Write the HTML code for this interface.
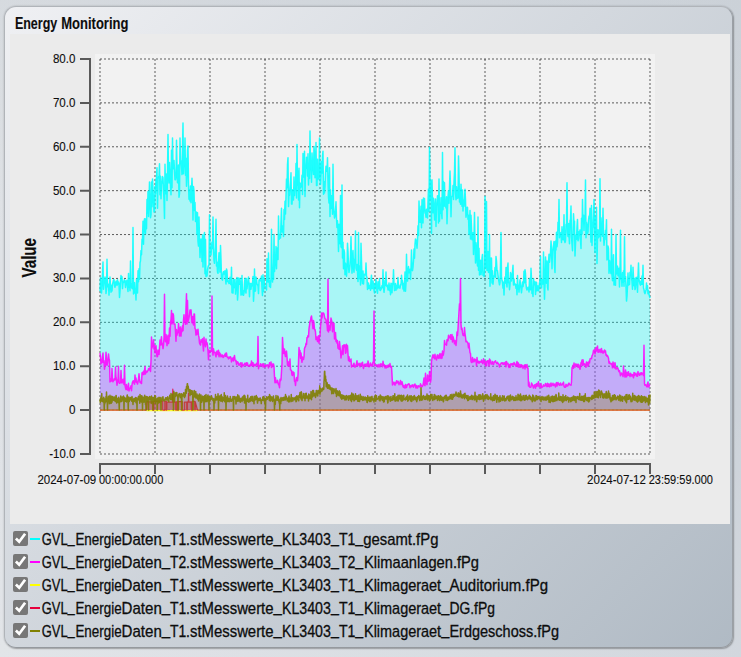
<!DOCTYPE html>
<html><head><meta charset="utf-8"><title>Energy Monitoring</title>
<style>
html,body{margin:0;padding:0;}
body{width:741px;height:657px;overflow:hidden;background:#d3d8dd;font-family:"Liberation Sans",sans-serif;position:relative;}
#bg{position:absolute;left:0;top:0;width:741px;height:657px;background:linear-gradient(180deg,rgba(200,206,212,0.39) 0%,rgba(200,206,212,0) 35%,rgba(255,255,255,0) 60%,rgba(255,255,255,0.1) 100%),linear-gradient(90deg,#dfe2e6 0%,#cdd3da 100%);}
#panel{position:absolute;left:4px;top:6px;width:727px;height:640px;border-radius:12px;border:1px solid #b0b4b9;border-right-color:#9ba0a6;border-bottom-color:#95999e;box-sizing:content-box;
 background:linear-gradient(135deg,#eff0f3 0%,#b0bac4 100%);box-shadow:0 0 2px rgba(0,0,0,0.22),1px 1px 1.5px rgba(0,0,0,0.25);}
#inner{position:absolute;left:10px;top:34px;width:720px;height:490px;background:#ebebeb;}
svg{position:absolute;left:0;top:0;}
text{font-family:"Liberation Sans",sans-serif;fill:#0d0d0d;stroke:#0d0d0d;stroke-width:0.3px;}
text[font-weight]{stroke-width:0.12px;}
text[font-size="12"]{stroke-width:0.1px;}
</style></head><body>
<div id="bg"></div>
<div id="panel"></div>
<div id="inner"></div>
<svg width="741" height="657" viewBox="0 0 741 657">
<rect x="95" y="54" width="560" height="405" fill="#f2f2f2"/>
<path d="M100,59V454M155,59V454M210,59V454M265,59V454M320,59V454M375,59V454M430,59V454M485,59V454M540,59V454M595,59V454M650,59V454M100,59.00H650M100,102.89H650M100,146.78H650M100,190.67H650M100,234.56H650M100,278.44H650M100,322.33H650M100,366.22H650M100,410.11H650M100,454.00H650" fill="none" stroke="#222" stroke-opacity="0.72" stroke-width="1" stroke-dasharray="2 2"/>
<path d="M100.00,410.1L100.00,291.3L100.50,277.8L101.00,288.0L101.50,292.9L102.00,284.4L102.50,273.1L103.00,261.9L103.50,289.3L104.00,284.1L104.50,280.8L105.00,277.1L105.50,280.4L106.00,293.4L106.50,289.3L107.00,259.3L107.50,286.7L108.00,284.2L108.50,284.6L109.00,295.1L109.50,284.3L110.00,277.1L110.50,286.5L111.00,292.3L111.50,285.5L112.00,291.0L112.50,284.1L113.00,282.1L113.50,279.9L114.00,279.6L114.50,285.4L115.00,287.2L115.50,284.3L116.00,281.2L116.50,281.3L117.00,285.4L117.50,279.7L118.00,284.0L118.50,282.0L119.00,283.6L119.50,297.4L120.00,291.3L120.50,281.9L121.00,275.5L121.50,279.4L122.00,276.7L122.50,288.6L123.00,282.2L123.50,282.6L124.00,280.6L124.50,279.6L125.00,281.9L125.50,287.5L126.00,281.1L126.50,284.7L127.00,280.3L127.50,287.2L128.00,291.4L128.50,273.4L129.00,287.2L129.50,283.2L130.00,290.7L130.50,260.9L131.00,287.0L131.50,283.4L132.00,288.3L132.50,288.6L133.00,227.5L133.50,294.0L134.00,283.4L134.50,282.6L135.00,293.1L135.50,289.1L136.00,299.9L136.50,279.0L137.00,285.9L137.50,293.0L138.00,270.7L138.50,281.8L139.00,268.7L139.50,279.2L140.00,262.7L140.50,260.7L141.00,250.5L141.50,254.8L142.00,239.4L142.50,238.5L143.00,221.3L143.50,244.3L144.00,222.9L144.50,218.8L145.00,229.4L145.50,233.5L146.00,218.4L146.50,228.7L147.00,199.5L147.50,212.9L148.00,191.5L148.50,216.4L149.00,200.2L149.50,181.9L150.00,201.1L150.50,217.7L151.00,214.6L151.50,182.0L152.00,206.7L152.50,179.0L153.00,190.0L153.50,200.6L154.00,212.0L154.50,211.1L155.00,186.5L155.50,193.9L156.00,179.7L156.50,177.7L157.00,167.8L157.50,208.3L158.00,178.8L158.50,177.5L159.00,175.8L159.50,163.7L160.00,194.7L160.50,176.3L161.00,198.7L161.50,183.5L162.00,183.1L162.50,176.6L163.00,177.5L163.50,189.8L164.00,199.8L164.50,218.5L165.00,164.3L165.50,187.8L166.00,193.7L166.50,174.1L167.00,200.5L167.50,172.5L168.00,134.5L168.50,174.3L169.00,182.9L169.50,162.5L170.00,175.6L170.50,183.7L171.00,194.7L171.50,150.2L172.00,187.8L172.50,138.0L173.00,166.4L173.50,168.7L174.00,160.4L174.50,171.1L175.00,179.7L175.50,179.7L176.00,177.0L176.50,140.2L177.00,168.0L177.50,182.7L178.00,181.0L178.50,164.9L179.00,197.2L179.50,193.6L180.00,138.0L180.50,161.6L181.00,160.8L181.50,166.7L182.00,174.6L182.50,147.2L183.00,123.1L183.50,173.8L184.00,163.5L184.50,165.9L185.00,138.0L185.50,175.3L186.00,158.3L186.50,186.2L187.00,175.1L187.50,150.6L188.00,145.9L188.50,182.9L189.00,199.3L189.50,190.0L190.00,200.9L190.50,186.1L191.00,202.8L191.50,189.3L192.00,178.3L192.50,192.1L193.00,220.1L193.50,186.5L194.00,191.3L194.50,210.4L195.00,202.6L195.50,221.5L196.00,212.5L196.50,212.0L197.00,233.9L197.50,212.8L198.00,241.3L198.50,246.1L199.00,217.1L199.50,240.1L200.00,257.6L200.50,245.4L201.00,239.1L201.50,239.3L202.00,261.6L202.50,234.7L203.00,266.9L203.50,241.6L204.00,235.9L204.50,232.4L205.00,273.8L205.50,239.5L206.00,276.6L206.50,271.4L207.00,275.9L207.50,270.2L208.00,267.0L208.50,265.5L209.00,265.2L209.50,214.8L210.00,244.2L210.50,254.8L211.00,255.0L211.50,247.3L212.00,242.1L212.50,248.4L213.00,217.0L213.50,247.6L214.00,260.4L214.50,263.3L215.00,255.7L215.50,245.8L216.00,219.2L216.50,266.0L217.00,262.1L217.50,271.9L218.00,273.2L218.50,261.6L219.00,252.7L219.50,260.9L220.00,272.1L220.50,245.5L221.00,259.1L221.50,278.0L222.00,279.2L222.50,280.1L223.00,273.2L223.50,271.6L224.00,274.1L224.50,274.1L225.00,270.7L225.50,279.5L226.00,283.9L226.50,268.9L227.00,271.0L227.50,281.6L228.00,280.0L228.50,282.2L229.00,283.5L229.50,283.1L230.00,277.2L230.50,283.6L231.00,284.6L231.50,267.2L232.00,292.7L232.50,284.7L233.00,293.1L233.50,279.3L234.00,286.7L234.50,287.6L235.00,279.5L235.50,294.1L236.00,287.5L236.50,285.2L237.00,277.5L237.50,300.1L238.00,293.5L238.50,278.1L239.00,284.0L239.50,284.2L240.00,278.3L240.50,285.2L241.00,295.1L241.50,289.4L242.00,275.6L242.50,294.7L243.00,290.5L243.50,295.3L244.00,292.9L244.50,283.0L245.00,278.3L245.50,291.1L246.00,293.0L246.50,278.5L247.00,288.7L247.50,283.8L248.00,283.6L248.50,277.0L249.00,284.2L249.50,296.8L250.00,283.2L250.50,284.5L251.00,289.3L251.50,283.6L252.00,285.9L252.50,283.9L253.00,276.6L253.50,301.2L254.00,291.3L254.50,268.9L255.00,291.3L255.50,290.7L256.00,277.1L256.50,278.8L257.00,283.8L257.50,284.6L258.00,286.0L258.50,293.6L259.00,280.3L259.50,279.4L260.00,279.8L260.50,280.9L261.00,279.3L261.50,276.1L262.00,288.4L262.50,295.6L263.00,274.7L263.50,291.6L264.00,277.7L264.50,285.3L265.00,286.4L265.50,286.4L266.00,286.7L266.50,290.0L267.00,258.7L267.50,275.9L268.00,281.9L268.50,253.1L269.00,277.8L269.50,286.6L270.00,281.2L270.50,287.4L271.00,277.8L271.50,229.3L272.00,262.6L272.50,282.1L273.00,268.0L273.50,279.5L274.00,234.6L274.50,271.6L275.00,263.4L275.50,264.7L276.00,246.6L276.50,268.8L277.00,249.8L277.50,247.7L278.00,259.4L278.50,216.0L279.00,239.3L279.50,238.3L280.00,234.6L280.50,237.9L281.00,221.4L281.50,208.3L282.00,232.1L282.50,225.8L283.00,228.5L283.50,236.5L284.00,209.5L284.50,219.5L285.00,201.3L285.50,214.0L286.00,196.1L286.50,179.0L287.00,187.7L287.50,164.3L288.00,157.7L288.50,206.6L289.00,193.6L289.50,195.2L290.00,187.1L290.50,181.3L291.00,172.8L291.50,204.0L292.00,204.1L292.50,189.7L293.00,196.4L293.50,199.9L294.00,176.9L294.50,195.6L295.00,186.9L295.50,188.0L296.00,163.5L296.50,197.9L297.00,144.6L297.50,185.0L298.00,170.7L298.50,199.9L299.00,168.3L299.50,207.8L300.00,183.0L300.50,187.8L301.00,186.3L301.50,184.0L302.00,175.2L302.50,194.4L303.00,153.4L303.50,177.0L304.00,176.3L304.50,151.2L305.00,196.6L305.50,169.0L306.00,168.0L306.50,157.3L307.00,163.1L307.50,176.1L308.00,153.7L308.50,185.0L309.00,170.1L309.50,178.5L310.00,131.0L310.50,169.7L311.00,165.2L311.50,182.2L312.00,152.9L312.50,163.9L313.00,167.8L313.50,174.5L314.00,146.6L314.50,154.0L315.00,177.7L315.50,169.3L316.00,142.4L316.50,185.4L317.00,185.4L317.50,159.2L318.00,179.6L318.50,177.4L319.00,176.9L319.50,138.0L320.00,178.4L320.50,184.2L321.00,173.6L321.50,161.5L322.00,173.1L322.50,156.1L323.00,151.2L323.50,194.2L324.00,181.6L324.50,192.9L325.00,186.8L325.50,173.6L326.00,166.2L326.50,171.2L327.00,171.3L327.50,157.8L328.00,180.5L328.50,196.6L329.00,202.9L329.50,167.8L330.00,216.5L330.50,190.1L331.00,208.4L331.50,205.0L332.00,195.4L332.50,214.3L333.00,164.3L333.50,205.3L334.00,211.9L334.50,218.0L335.00,216.0L335.50,211.2L336.00,201.8L336.50,218.3L337.00,227.4L337.50,220.8L338.00,229.1L338.50,251.6L339.00,224.2L339.50,229.4L340.00,243.8L340.50,195.5L341.00,246.7L341.50,247.7L342.00,185.0L342.50,257.9L343.00,242.3L343.50,268.7L344.00,249.8L344.50,252.9L345.00,274.8L345.50,263.2L346.00,269.3L346.50,276.2L347.00,268.3L347.50,243.3L348.00,251.5L348.50,266.2L349.00,272.5L349.50,269.5L350.00,265.2L350.50,255.7L351.00,236.8L351.50,258.6L352.00,273.1L352.50,260.7L353.00,250.6L353.50,267.1L354.00,272.3L354.50,261.1L355.00,258.0L355.50,231.0L356.00,268.1L356.50,270.2L357.00,264.6L357.50,271.7L358.00,281.4L358.50,232.4L359.00,269.5L359.50,278.8L360.00,265.9L360.50,284.9L361.00,243.3L361.50,261.0L362.00,279.3L362.50,283.6L363.00,271.0L363.50,283.9L364.00,274.9L364.50,274.3L365.00,274.8L365.50,274.9L366.00,263.1L366.50,276.3L367.00,277.4L367.50,289.4L368.00,287.3L368.50,283.1L369.00,288.4L369.50,286.6L370.00,285.3L370.50,290.3L371.00,278.9L371.50,275.2L372.00,288.7L372.50,288.3L373.00,281.0L373.50,285.1L374.00,290.0L374.50,292.9L375.00,283.5L375.50,287.0L376.00,279.6L376.50,284.8L377.00,291.1L377.50,293.2L378.00,281.7L378.50,282.5L379.00,288.8L379.50,278.5L380.00,290.3L380.50,290.5L381.00,287.4L381.50,288.9L382.00,285.4L382.50,287.6L383.00,269.7L383.50,286.3L384.00,292.3L384.50,287.9L385.00,280.3L385.50,285.6L386.00,271.9L386.50,285.2L387.00,286.6L387.50,285.2L388.00,289.9L388.50,288.0L389.00,283.1L389.50,290.6L390.00,285.4L390.50,294.7L391.00,283.2L391.50,290.8L392.00,292.7L392.50,283.3L393.00,284.0L393.50,269.7L394.00,283.2L394.50,290.6L395.00,288.0L395.50,283.5L396.00,290.2L396.50,285.5L397.00,288.8L397.50,286.1L398.00,277.4L398.50,287.8L399.00,285.9L399.50,287.7L400.00,288.1L400.50,284.3L401.00,285.0L401.50,275.3L402.00,281.7L402.50,280.7L403.00,289.0L403.50,283.6L404.00,291.1L404.50,287.2L405.00,271.9L405.50,291.3L406.00,282.8L406.50,254.3L407.00,274.2L407.50,281.1L408.00,272.4L408.50,266.6L409.00,272.8L409.50,270.1L410.00,269.2L410.50,279.4L411.00,267.7L411.50,249.9L412.00,269.5L412.50,270.6L413.00,267.0L413.50,260.8L414.00,249.1L414.50,258.3L415.00,244.1L415.50,238.9L416.00,240.0L416.50,243.0L417.00,248.3L417.50,240.5L418.00,225.7L418.50,235.4L419.00,201.1L419.50,215.6L420.00,222.3L420.50,218.6L421.00,206.2L421.50,227.8L422.00,199.7L422.50,212.2L423.00,223.0L423.50,198.1L424.00,210.7L424.50,198.6L425.00,213.0L425.50,212.1L426.00,217.3L426.50,209.3L427.00,214.4L427.50,218.0L428.00,201.2L428.50,189.1L429.00,211.5L429.50,147.2L430.00,179.9L430.50,200.0L431.00,181.1L431.50,233.4L432.00,179.7L432.50,201.4L433.00,212.8L433.50,198.2L434.00,205.8L434.50,220.0L435.00,211.6L435.50,198.9L436.00,226.5L436.50,205.5L437.00,204.5L437.50,195.7L438.00,201.4L438.50,223.1L439.00,179.0L439.50,221.2L440.00,209.2L440.50,213.3L441.00,197.7L441.50,212.4L442.00,218.8L442.50,152.5L443.00,209.8L443.50,181.5L444.00,205.9L444.50,182.7L445.00,206.2L445.50,205.0L446.00,207.9L446.50,196.8L447.00,223.7L447.50,207.9L448.00,196.7L448.50,190.8L449.00,203.3L449.50,186.9L450.00,170.9L450.50,186.6L451.00,216.8L451.50,196.8L452.00,196.5L452.50,196.6L453.00,185.5L453.50,199.5L454.00,181.5L454.50,172.0L455.00,147.7L455.50,192.2L456.00,199.7L456.50,186.8L457.00,198.4L457.50,198.1L458.00,198.0L458.50,156.1L459.00,173.1L459.50,202.1L460.00,189.5L460.50,204.2L461.00,184.3L461.50,196.2L462.00,206.2L462.50,189.9L463.00,210.9L463.50,200.5L464.00,206.2L464.50,197.7L465.00,189.2L465.50,200.3L466.00,217.2L466.50,213.2L467.00,207.5L467.50,207.3L468.00,219.3L468.50,215.3L469.00,234.2L469.50,223.8L470.00,210.6L470.50,238.9L471.00,215.3L471.50,228.0L472.00,239.8L472.50,233.2L473.00,232.7L473.50,254.5L474.00,237.0L474.50,212.6L475.00,241.6L475.50,263.0L476.00,242.7L476.50,249.6L477.00,260.0L477.50,265.9L478.00,217.0L478.50,270.2L479.00,248.2L479.50,274.9L480.00,270.7L480.50,260.3L481.00,274.6L481.50,269.9L482.00,258.2L482.50,254.4L483.00,275.2L483.50,272.2L484.00,276.4L484.50,271.0L485.00,196.4L485.50,264.0L486.00,267.7L486.50,201.6L487.00,270.5L487.50,268.0L488.00,251.6L488.50,272.4L489.00,266.2L489.50,234.6L490.00,286.3L490.50,272.0L491.00,258.0L491.50,258.2L492.00,283.0L492.50,270.8L493.00,284.3L493.50,278.2L494.00,275.8L494.50,276.4L495.00,267.5L495.50,277.2L496.00,256.5L496.50,261.4L497.00,270.5L497.50,270.6L498.00,275.0L498.50,279.1L499.00,281.8L499.50,284.8L500.00,282.6L500.50,264.7L501.00,232.4L501.50,277.2L502.00,280.0L502.50,282.2L503.00,288.1L503.50,282.3L504.00,295.0L504.50,281.9L505.00,277.1L505.50,283.1L506.00,267.4L506.50,281.8L507.00,286.9L507.50,267.2L508.00,263.1L508.50,282.7L509.00,282.0L509.50,289.7L510.00,285.0L510.50,272.6L511.00,275.6L511.50,280.9L512.00,275.2L512.50,271.8L513.00,265.3L513.50,284.9L514.00,279.0L514.50,284.7L515.00,284.4L515.50,284.1L516.00,288.3L516.50,284.7L517.00,294.7L517.50,275.6L518.00,289.1L518.50,285.5L519.00,292.1L519.50,285.4L520.00,279.8L520.50,284.5L521.00,288.0L521.50,292.8L522.00,287.7L522.50,282.0L523.00,286.6L523.50,283.0L524.00,271.2L524.50,282.8L525.00,269.7L525.50,273.7L526.00,283.9L526.50,288.6L527.00,290.1L527.50,288.7L528.00,287.2L528.50,287.6L529.00,292.0L529.50,278.4L530.00,286.3L530.50,289.8L531.00,268.2L531.50,279.1L532.00,293.4L532.50,289.7L533.00,296.5L533.50,278.7L534.00,282.7L534.50,284.8L535.00,281.8L535.50,294.4L536.00,286.3L536.50,282.2L537.00,290.7L537.50,286.9L538.00,285.9L538.50,290.8L539.00,288.7L539.50,282.8L540.00,280.1L540.50,256.5L541.00,286.2L541.50,287.9L542.00,279.7L542.50,283.7L543.00,284.0L543.50,252.1L544.00,282.2L544.50,299.3L545.00,284.0L545.50,256.9L546.00,265.7L546.50,283.3L547.00,260.9L547.50,286.8L548.00,290.0L548.50,262.5L549.00,254.3L549.50,262.2L550.00,257.7L550.50,252.6L551.00,241.1L551.50,247.3L552.00,268.7L552.50,250.4L553.00,249.8L553.50,245.9L554.00,241.5L554.50,265.5L555.00,272.4L555.50,241.3L556.00,250.1L556.50,232.3L557.00,246.7L557.50,242.1L558.00,222.3L558.50,230.3L559.00,199.4L559.50,237.7L560.00,232.9L560.50,235.9L561.00,232.4L561.50,242.4L562.00,226.7L562.50,234.2L563.00,239.8L563.50,238.8L564.00,214.8L564.50,240.5L565.00,242.6L565.50,240.8L566.00,224.4L566.50,223.6L567.00,182.8L567.50,232.1L568.00,236.4L568.50,223.5L569.00,236.1L569.50,243.7L570.00,220.6L570.50,219.5L571.00,206.0L571.50,236.7L572.00,243.6L572.50,250.8L573.00,234.3L573.50,213.8L574.00,223.0L574.50,221.2L575.00,256.0L575.50,244.0L576.00,235.0L576.50,239.3L577.00,226.3L577.50,219.4L578.00,240.7L578.50,239.1L579.00,231.7L579.50,235.2L580.00,229.9L580.50,240.0L581.00,248.5L581.50,218.2L582.00,234.1L582.50,199.4L583.00,221.5L583.50,214.9L584.00,230.4L584.50,215.4L585.00,218.7L585.50,180.1L586.00,237.8L586.50,222.3L587.00,225.8L587.50,233.8L588.00,231.9L588.50,220.0L589.00,216.0L589.50,218.4L590.00,208.2L590.50,229.4L591.00,242.1L591.50,205.6L592.00,245.6L592.50,228.4L593.00,227.0L593.50,216.4L594.00,199.4L594.50,233.9L595.00,252.5L595.50,216.9L596.00,227.4L596.50,207.2L597.00,263.6L597.50,236.5L598.00,229.8L598.50,237.7L599.00,234.6L599.50,236.5L600.00,178.8L600.50,240.9L601.00,217.7L601.50,228.8L602.00,232.5L602.50,236.3L603.00,208.2L603.50,234.5L604.00,245.2L604.50,239.4L605.00,239.5L605.50,230.3L606.00,232.9L606.50,219.7L607.00,260.0L607.50,259.0L608.00,246.1L608.50,248.6L609.00,273.2L609.50,260.5L610.00,265.6L610.50,270.6L611.00,273.5L611.50,229.3L612.00,274.9L612.50,280.7L613.00,268.4L613.50,254.7L614.00,285.1L614.50,277.1L615.00,281.5L615.50,285.2L616.00,234.6L616.50,274.0L617.00,267.6L617.50,266.1L618.00,275.8L618.50,272.9L619.00,268.2L619.50,286.9L620.00,271.5L620.50,230.2L621.00,279.0L621.50,277.6L622.00,286.3L622.50,272.8L623.00,282.3L623.50,270.7L624.00,286.2L624.50,236.8L625.00,281.2L625.50,276.4L626.00,285.9L626.50,301.1L627.00,296.0L627.50,286.3L628.00,272.9L628.50,285.1L629.00,283.9L629.50,284.5L630.00,272.3L630.50,275.4L631.00,265.3L631.50,277.7L632.00,281.1L632.50,289.3L633.00,267.3L633.50,277.8L634.00,285.8L634.50,278.5L635.00,289.6L635.50,288.0L636.00,277.6L636.50,284.8L637.00,277.2L637.50,292.3L638.00,276.1L638.50,263.1L639.00,279.3L639.50,281.9L640.00,283.9L640.50,285.1L641.00,280.9L641.50,284.3L642.00,276.0L642.50,284.3L643.00,265.3L643.50,288.1L644.00,289.5L644.50,292.7L645.00,293.6L645.50,291.5L646.00,289.9L646.50,283.0L647.00,289.5L647.50,285.8L648.00,293.8L648.50,290.4L649.00,294.0L649.50,296.3L650.00,298.1L650.00,410.1Z" fill="#00ffff" fill-opacity="0.3" stroke="none"/>
<path d="M100.00,291.3L100.50,277.8L101.00,288.0L101.50,292.9L102.00,284.4L102.50,273.1L103.00,261.9L103.50,289.3L104.00,284.1L104.50,280.8L105.00,277.1L105.50,280.4L106.00,293.4L106.50,289.3L107.00,259.3L107.50,286.7L108.00,284.2L108.50,284.6L109.00,295.1L109.50,284.3L110.00,277.1L110.50,286.5L111.00,292.3L111.50,285.5L112.00,291.0L112.50,284.1L113.00,282.1L113.50,279.9L114.00,279.6L114.50,285.4L115.00,287.2L115.50,284.3L116.00,281.2L116.50,281.3L117.00,285.4L117.50,279.7L118.00,284.0L118.50,282.0L119.00,283.6L119.50,297.4L120.00,291.3L120.50,281.9L121.00,275.5L121.50,279.4L122.00,276.7L122.50,288.6L123.00,282.2L123.50,282.6L124.00,280.6L124.50,279.6L125.00,281.9L125.50,287.5L126.00,281.1L126.50,284.7L127.00,280.3L127.50,287.2L128.00,291.4L128.50,273.4L129.00,287.2L129.50,283.2L130.00,290.7L130.50,260.9L131.00,287.0L131.50,283.4L132.00,288.3L132.50,288.6L133.00,227.5L133.50,294.0L134.00,283.4L134.50,282.6L135.00,293.1L135.50,289.1L136.00,299.9L136.50,279.0L137.00,285.9L137.50,293.0L138.00,270.7L138.50,281.8L139.00,268.7L139.50,279.2L140.00,262.7L140.50,260.7L141.00,250.5L141.50,254.8L142.00,239.4L142.50,238.5L143.00,221.3L143.50,244.3L144.00,222.9L144.50,218.8L145.00,229.4L145.50,233.5L146.00,218.4L146.50,228.7L147.00,199.5L147.50,212.9L148.00,191.5L148.50,216.4L149.00,200.2L149.50,181.9L150.00,201.1L150.50,217.7L151.00,214.6L151.50,182.0L152.00,206.7L152.50,179.0L153.00,190.0L153.50,200.6L154.00,212.0L154.50,211.1L155.00,186.5L155.50,193.9L156.00,179.7L156.50,177.7L157.00,167.8L157.50,208.3L158.00,178.8L158.50,177.5L159.00,175.8L159.50,163.7L160.00,194.7L160.50,176.3L161.00,198.7L161.50,183.5L162.00,183.1L162.50,176.6L163.00,177.5L163.50,189.8L164.00,199.8L164.50,218.5L165.00,164.3L165.50,187.8L166.00,193.7L166.50,174.1L167.00,200.5L167.50,172.5L168.00,134.5L168.50,174.3L169.00,182.9L169.50,162.5L170.00,175.6L170.50,183.7L171.00,194.7L171.50,150.2L172.00,187.8L172.50,138.0L173.00,166.4L173.50,168.7L174.00,160.4L174.50,171.1L175.00,179.7L175.50,179.7L176.00,177.0L176.50,140.2L177.00,168.0L177.50,182.7L178.00,181.0L178.50,164.9L179.00,197.2L179.50,193.6L180.00,138.0L180.50,161.6L181.00,160.8L181.50,166.7L182.00,174.6L182.50,147.2L183.00,123.1L183.50,173.8L184.00,163.5L184.50,165.9L185.00,138.0L185.50,175.3L186.00,158.3L186.50,186.2L187.00,175.1L187.50,150.6L188.00,145.9L188.50,182.9L189.00,199.3L189.50,190.0L190.00,200.9L190.50,186.1L191.00,202.8L191.50,189.3L192.00,178.3L192.50,192.1L193.00,220.1L193.50,186.5L194.00,191.3L194.50,210.4L195.00,202.6L195.50,221.5L196.00,212.5L196.50,212.0L197.00,233.9L197.50,212.8L198.00,241.3L198.50,246.1L199.00,217.1L199.50,240.1L200.00,257.6L200.50,245.4L201.00,239.1L201.50,239.3L202.00,261.6L202.50,234.7L203.00,266.9L203.50,241.6L204.00,235.9L204.50,232.4L205.00,273.8L205.50,239.5L206.00,276.6L206.50,271.4L207.00,275.9L207.50,270.2L208.00,267.0L208.50,265.5L209.00,265.2L209.50,214.8L210.00,244.2L210.50,254.8L211.00,255.0L211.50,247.3L212.00,242.1L212.50,248.4L213.00,217.0L213.50,247.6L214.00,260.4L214.50,263.3L215.00,255.7L215.50,245.8L216.00,219.2L216.50,266.0L217.00,262.1L217.50,271.9L218.00,273.2L218.50,261.6L219.00,252.7L219.50,260.9L220.00,272.1L220.50,245.5L221.00,259.1L221.50,278.0L222.00,279.2L222.50,280.1L223.00,273.2L223.50,271.6L224.00,274.1L224.50,274.1L225.00,270.7L225.50,279.5L226.00,283.9L226.50,268.9L227.00,271.0L227.50,281.6L228.00,280.0L228.50,282.2L229.00,283.5L229.50,283.1L230.00,277.2L230.50,283.6L231.00,284.6L231.50,267.2L232.00,292.7L232.50,284.7L233.00,293.1L233.50,279.3L234.00,286.7L234.50,287.6L235.00,279.5L235.50,294.1L236.00,287.5L236.50,285.2L237.00,277.5L237.50,300.1L238.00,293.5L238.50,278.1L239.00,284.0L239.50,284.2L240.00,278.3L240.50,285.2L241.00,295.1L241.50,289.4L242.00,275.6L242.50,294.7L243.00,290.5L243.50,295.3L244.00,292.9L244.50,283.0L245.00,278.3L245.50,291.1L246.00,293.0L246.50,278.5L247.00,288.7L247.50,283.8L248.00,283.6L248.50,277.0L249.00,284.2L249.50,296.8L250.00,283.2L250.50,284.5L251.00,289.3L251.50,283.6L252.00,285.9L252.50,283.9L253.00,276.6L253.50,301.2L254.00,291.3L254.50,268.9L255.00,291.3L255.50,290.7L256.00,277.1L256.50,278.8L257.00,283.8L257.50,284.6L258.00,286.0L258.50,293.6L259.00,280.3L259.50,279.4L260.00,279.8L260.50,280.9L261.00,279.3L261.50,276.1L262.00,288.4L262.50,295.6L263.00,274.7L263.50,291.6L264.00,277.7L264.50,285.3L265.00,286.4L265.50,286.4L266.00,286.7L266.50,290.0L267.00,258.7L267.50,275.9L268.00,281.9L268.50,253.1L269.00,277.8L269.50,286.6L270.00,281.2L270.50,287.4L271.00,277.8L271.50,229.3L272.00,262.6L272.50,282.1L273.00,268.0L273.50,279.5L274.00,234.6L274.50,271.6L275.00,263.4L275.50,264.7L276.00,246.6L276.50,268.8L277.00,249.8L277.50,247.7L278.00,259.4L278.50,216.0L279.00,239.3L279.50,238.3L280.00,234.6L280.50,237.9L281.00,221.4L281.50,208.3L282.00,232.1L282.50,225.8L283.00,228.5L283.50,236.5L284.00,209.5L284.50,219.5L285.00,201.3L285.50,214.0L286.00,196.1L286.50,179.0L287.00,187.7L287.50,164.3L288.00,157.7L288.50,206.6L289.00,193.6L289.50,195.2L290.00,187.1L290.50,181.3L291.00,172.8L291.50,204.0L292.00,204.1L292.50,189.7L293.00,196.4L293.50,199.9L294.00,176.9L294.50,195.6L295.00,186.9L295.50,188.0L296.00,163.5L296.50,197.9L297.00,144.6L297.50,185.0L298.00,170.7L298.50,199.9L299.00,168.3L299.50,207.8L300.00,183.0L300.50,187.8L301.00,186.3L301.50,184.0L302.00,175.2L302.50,194.4L303.00,153.4L303.50,177.0L304.00,176.3L304.50,151.2L305.00,196.6L305.50,169.0L306.00,168.0L306.50,157.3L307.00,163.1L307.50,176.1L308.00,153.7L308.50,185.0L309.00,170.1L309.50,178.5L310.00,131.0L310.50,169.7L311.00,165.2L311.50,182.2L312.00,152.9L312.50,163.9L313.00,167.8L313.50,174.5L314.00,146.6L314.50,154.0L315.00,177.7L315.50,169.3L316.00,142.4L316.50,185.4L317.00,185.4L317.50,159.2L318.00,179.6L318.50,177.4L319.00,176.9L319.50,138.0L320.00,178.4L320.50,184.2L321.00,173.6L321.50,161.5L322.00,173.1L322.50,156.1L323.00,151.2L323.50,194.2L324.00,181.6L324.50,192.9L325.00,186.8L325.50,173.6L326.00,166.2L326.50,171.2L327.00,171.3L327.50,157.8L328.00,180.5L328.50,196.6L329.00,202.9L329.50,167.8L330.00,216.5L330.50,190.1L331.00,208.4L331.50,205.0L332.00,195.4L332.50,214.3L333.00,164.3L333.50,205.3L334.00,211.9L334.50,218.0L335.00,216.0L335.50,211.2L336.00,201.8L336.50,218.3L337.00,227.4L337.50,220.8L338.00,229.1L338.50,251.6L339.00,224.2L339.50,229.4L340.00,243.8L340.50,195.5L341.00,246.7L341.50,247.7L342.00,185.0L342.50,257.9L343.00,242.3L343.50,268.7L344.00,249.8L344.50,252.9L345.00,274.8L345.50,263.2L346.00,269.3L346.50,276.2L347.00,268.3L347.50,243.3L348.00,251.5L348.50,266.2L349.00,272.5L349.50,269.5L350.00,265.2L350.50,255.7L351.00,236.8L351.50,258.6L352.00,273.1L352.50,260.7L353.00,250.6L353.50,267.1L354.00,272.3L354.50,261.1L355.00,258.0L355.50,231.0L356.00,268.1L356.50,270.2L357.00,264.6L357.50,271.7L358.00,281.4L358.50,232.4L359.00,269.5L359.50,278.8L360.00,265.9L360.50,284.9L361.00,243.3L361.50,261.0L362.00,279.3L362.50,283.6L363.00,271.0L363.50,283.9L364.00,274.9L364.50,274.3L365.00,274.8L365.50,274.9L366.00,263.1L366.50,276.3L367.00,277.4L367.50,289.4L368.00,287.3L368.50,283.1L369.00,288.4L369.50,286.6L370.00,285.3L370.50,290.3L371.00,278.9L371.50,275.2L372.00,288.7L372.50,288.3L373.00,281.0L373.50,285.1L374.00,290.0L374.50,292.9L375.00,283.5L375.50,287.0L376.00,279.6L376.50,284.8L377.00,291.1L377.50,293.2L378.00,281.7L378.50,282.5L379.00,288.8L379.50,278.5L380.00,290.3L380.50,290.5L381.00,287.4L381.50,288.9L382.00,285.4L382.50,287.6L383.00,269.7L383.50,286.3L384.00,292.3L384.50,287.9L385.00,280.3L385.50,285.6L386.00,271.9L386.50,285.2L387.00,286.6L387.50,285.2L388.00,289.9L388.50,288.0L389.00,283.1L389.50,290.6L390.00,285.4L390.50,294.7L391.00,283.2L391.50,290.8L392.00,292.7L392.50,283.3L393.00,284.0L393.50,269.7L394.00,283.2L394.50,290.6L395.00,288.0L395.50,283.5L396.00,290.2L396.50,285.5L397.00,288.8L397.50,286.1L398.00,277.4L398.50,287.8L399.00,285.9L399.50,287.7L400.00,288.1L400.50,284.3L401.00,285.0L401.50,275.3L402.00,281.7L402.50,280.7L403.00,289.0L403.50,283.6L404.00,291.1L404.50,287.2L405.00,271.9L405.50,291.3L406.00,282.8L406.50,254.3L407.00,274.2L407.50,281.1L408.00,272.4L408.50,266.6L409.00,272.8L409.50,270.1L410.00,269.2L410.50,279.4L411.00,267.7L411.50,249.9L412.00,269.5L412.50,270.6L413.00,267.0L413.50,260.8L414.00,249.1L414.50,258.3L415.00,244.1L415.50,238.9L416.00,240.0L416.50,243.0L417.00,248.3L417.50,240.5L418.00,225.7L418.50,235.4L419.00,201.1L419.50,215.6L420.00,222.3L420.50,218.6L421.00,206.2L421.50,227.8L422.00,199.7L422.50,212.2L423.00,223.0L423.50,198.1L424.00,210.7L424.50,198.6L425.00,213.0L425.50,212.1L426.00,217.3L426.50,209.3L427.00,214.4L427.50,218.0L428.00,201.2L428.50,189.1L429.00,211.5L429.50,147.2L430.00,179.9L430.50,200.0L431.00,181.1L431.50,233.4L432.00,179.7L432.50,201.4L433.00,212.8L433.50,198.2L434.00,205.8L434.50,220.0L435.00,211.6L435.50,198.9L436.00,226.5L436.50,205.5L437.00,204.5L437.50,195.7L438.00,201.4L438.50,223.1L439.00,179.0L439.50,221.2L440.00,209.2L440.50,213.3L441.00,197.7L441.50,212.4L442.00,218.8L442.50,152.5L443.00,209.8L443.50,181.5L444.00,205.9L444.50,182.7L445.00,206.2L445.50,205.0L446.00,207.9L446.50,196.8L447.00,223.7L447.50,207.9L448.00,196.7L448.50,190.8L449.00,203.3L449.50,186.9L450.00,170.9L450.50,186.6L451.00,216.8L451.50,196.8L452.00,196.5L452.50,196.6L453.00,185.5L453.50,199.5L454.00,181.5L454.50,172.0L455.00,147.7L455.50,192.2L456.00,199.7L456.50,186.8L457.00,198.4L457.50,198.1L458.00,198.0L458.50,156.1L459.00,173.1L459.50,202.1L460.00,189.5L460.50,204.2L461.00,184.3L461.50,196.2L462.00,206.2L462.50,189.9L463.00,210.9L463.50,200.5L464.00,206.2L464.50,197.7L465.00,189.2L465.50,200.3L466.00,217.2L466.50,213.2L467.00,207.5L467.50,207.3L468.00,219.3L468.50,215.3L469.00,234.2L469.50,223.8L470.00,210.6L470.50,238.9L471.00,215.3L471.50,228.0L472.00,239.8L472.50,233.2L473.00,232.7L473.50,254.5L474.00,237.0L474.50,212.6L475.00,241.6L475.50,263.0L476.00,242.7L476.50,249.6L477.00,260.0L477.50,265.9L478.00,217.0L478.50,270.2L479.00,248.2L479.50,274.9L480.00,270.7L480.50,260.3L481.00,274.6L481.50,269.9L482.00,258.2L482.50,254.4L483.00,275.2L483.50,272.2L484.00,276.4L484.50,271.0L485.00,196.4L485.50,264.0L486.00,267.7L486.50,201.6L487.00,270.5L487.50,268.0L488.00,251.6L488.50,272.4L489.00,266.2L489.50,234.6L490.00,286.3L490.50,272.0L491.00,258.0L491.50,258.2L492.00,283.0L492.50,270.8L493.00,284.3L493.50,278.2L494.00,275.8L494.50,276.4L495.00,267.5L495.50,277.2L496.00,256.5L496.50,261.4L497.00,270.5L497.50,270.6L498.00,275.0L498.50,279.1L499.00,281.8L499.50,284.8L500.00,282.6L500.50,264.7L501.00,232.4L501.50,277.2L502.00,280.0L502.50,282.2L503.00,288.1L503.50,282.3L504.00,295.0L504.50,281.9L505.00,277.1L505.50,283.1L506.00,267.4L506.50,281.8L507.00,286.9L507.50,267.2L508.00,263.1L508.50,282.7L509.00,282.0L509.50,289.7L510.00,285.0L510.50,272.6L511.00,275.6L511.50,280.9L512.00,275.2L512.50,271.8L513.00,265.3L513.50,284.9L514.00,279.0L514.50,284.7L515.00,284.4L515.50,284.1L516.00,288.3L516.50,284.7L517.00,294.7L517.50,275.6L518.00,289.1L518.50,285.5L519.00,292.1L519.50,285.4L520.00,279.8L520.50,284.5L521.00,288.0L521.50,292.8L522.00,287.7L522.50,282.0L523.00,286.6L523.50,283.0L524.00,271.2L524.50,282.8L525.00,269.7L525.50,273.7L526.00,283.9L526.50,288.6L527.00,290.1L527.50,288.7L528.00,287.2L528.50,287.6L529.00,292.0L529.50,278.4L530.00,286.3L530.50,289.8L531.00,268.2L531.50,279.1L532.00,293.4L532.50,289.7L533.00,296.5L533.50,278.7L534.00,282.7L534.50,284.8L535.00,281.8L535.50,294.4L536.00,286.3L536.50,282.2L537.00,290.7L537.50,286.9L538.00,285.9L538.50,290.8L539.00,288.7L539.50,282.8L540.00,280.1L540.50,256.5L541.00,286.2L541.50,287.9L542.00,279.7L542.50,283.7L543.00,284.0L543.50,252.1L544.00,282.2L544.50,299.3L545.00,284.0L545.50,256.9L546.00,265.7L546.50,283.3L547.00,260.9L547.50,286.8L548.00,290.0L548.50,262.5L549.00,254.3L549.50,262.2L550.00,257.7L550.50,252.6L551.00,241.1L551.50,247.3L552.00,268.7L552.50,250.4L553.00,249.8L553.50,245.9L554.00,241.5L554.50,265.5L555.00,272.4L555.50,241.3L556.00,250.1L556.50,232.3L557.00,246.7L557.50,242.1L558.00,222.3L558.50,230.3L559.00,199.4L559.50,237.7L560.00,232.9L560.50,235.9L561.00,232.4L561.50,242.4L562.00,226.7L562.50,234.2L563.00,239.8L563.50,238.8L564.00,214.8L564.50,240.5L565.00,242.6L565.50,240.8L566.00,224.4L566.50,223.6L567.00,182.8L567.50,232.1L568.00,236.4L568.50,223.5L569.00,236.1L569.50,243.7L570.00,220.6L570.50,219.5L571.00,206.0L571.50,236.7L572.00,243.6L572.50,250.8L573.00,234.3L573.50,213.8L574.00,223.0L574.50,221.2L575.00,256.0L575.50,244.0L576.00,235.0L576.50,239.3L577.00,226.3L577.50,219.4L578.00,240.7L578.50,239.1L579.00,231.7L579.50,235.2L580.00,229.9L580.50,240.0L581.00,248.5L581.50,218.2L582.00,234.1L582.50,199.4L583.00,221.5L583.50,214.9L584.00,230.4L584.50,215.4L585.00,218.7L585.50,180.1L586.00,237.8L586.50,222.3L587.00,225.8L587.50,233.8L588.00,231.9L588.50,220.0L589.00,216.0L589.50,218.4L590.00,208.2L590.50,229.4L591.00,242.1L591.50,205.6L592.00,245.6L592.50,228.4L593.00,227.0L593.50,216.4L594.00,199.4L594.50,233.9L595.00,252.5L595.50,216.9L596.00,227.4L596.50,207.2L597.00,263.6L597.50,236.5L598.00,229.8L598.50,237.7L599.00,234.6L599.50,236.5L600.00,178.8L600.50,240.9L601.00,217.7L601.50,228.8L602.00,232.5L602.50,236.3L603.00,208.2L603.50,234.5L604.00,245.2L604.50,239.4L605.00,239.5L605.50,230.3L606.00,232.9L606.50,219.7L607.00,260.0L607.50,259.0L608.00,246.1L608.50,248.6L609.00,273.2L609.50,260.5L610.00,265.6L610.50,270.6L611.00,273.5L611.50,229.3L612.00,274.9L612.50,280.7L613.00,268.4L613.50,254.7L614.00,285.1L614.50,277.1L615.00,281.5L615.50,285.2L616.00,234.6L616.50,274.0L617.00,267.6L617.50,266.1L618.00,275.8L618.50,272.9L619.00,268.2L619.50,286.9L620.00,271.5L620.50,230.2L621.00,279.0L621.50,277.6L622.00,286.3L622.50,272.8L623.00,282.3L623.50,270.7L624.00,286.2L624.50,236.8L625.00,281.2L625.50,276.4L626.00,285.9L626.50,301.1L627.00,296.0L627.50,286.3L628.00,272.9L628.50,285.1L629.00,283.9L629.50,284.5L630.00,272.3L630.50,275.4L631.00,265.3L631.50,277.7L632.00,281.1L632.50,289.3L633.00,267.3L633.50,277.8L634.00,285.8L634.50,278.5L635.00,289.6L635.50,288.0L636.00,277.6L636.50,284.8L637.00,277.2L637.50,292.3L638.00,276.1L638.50,263.1L639.00,279.3L639.50,281.9L640.00,283.9L640.50,285.1L641.00,280.9L641.50,284.3L642.00,276.0L642.50,284.3L643.00,265.3L643.50,288.1L644.00,289.5L644.50,292.7L645.00,293.6L645.50,291.5L646.00,289.9L646.50,283.0L647.00,289.5L647.50,285.8L648.00,293.8L648.50,290.4L649.00,294.0L649.50,296.3L650.00,298.1" fill="none" stroke="#00ffff" stroke-width="1.5" stroke-opacity="0.86" stroke-linejoin="round"/>
<path d="M100.00,410.1L100.00,353.0L100.50,357.4L101.00,363.7L101.50,360.2L102.00,362.4L102.50,356.3L103.00,353.1L103.50,362.4L104.00,360.8L104.50,369.2L105.00,365.9L105.50,364.8L106.00,352.2L106.50,357.8L107.00,365.2L107.50,363.4L108.00,360.2L108.50,353.9L109.00,358.6L109.50,360.4L110.00,381.9L110.50,381.2L111.00,378.4L111.50,380.9L112.00,368.4L112.50,378.7L113.00,381.8L113.50,380.3L114.00,380.1L114.50,378.4L115.00,379.9L115.50,367.1L116.00,377.2L116.50,379.7L117.00,385.2L117.50,381.6L118.00,379.8L118.50,366.2L119.00,382.6L119.50,383.3L120.00,383.0L120.50,382.4L121.00,370.6L121.50,381.4L122.00,383.0L122.50,380.9L123.00,379.2L123.50,381.2L124.00,384.4L124.50,365.3L125.00,384.8L125.50,388.1L126.00,389.5L126.50,384.6L127.00,388.6L127.50,390.0L128.00,388.7L128.50,383.3L129.00,390.9L129.50,388.9L130.00,388.0L130.50,388.5L131.00,385.7L131.50,390.7L132.00,384.7L132.50,382.2L133.00,380.9L133.50,380.8L134.00,383.2L134.50,384.2L135.00,375.0L135.50,381.7L136.00,378.1L136.50,382.5L137.00,381.3L137.50,384.0L138.00,381.8L138.50,379.2L139.00,373.7L139.50,378.9L140.00,382.1L140.50,382.6L141.00,381.5L141.50,383.5L142.00,372.9L142.50,372.5L143.00,374.6L143.50,371.3L144.00,374.4L144.50,370.5L145.00,366.5L145.50,373.9L146.00,371.0L146.50,371.7L147.00,372.1L147.50,371.0L148.00,370.7L148.50,368.6L149.00,369.2L149.50,369.9L150.00,367.5L150.50,371.5L151.00,360.6L151.50,337.0L152.00,347.9L152.50,344.6L153.00,345.9L153.50,339.8L154.00,348.9L154.50,345.1L155.00,352.7L155.50,351.3L156.00,345.8L156.50,353.0L157.00,356.7L157.50,356.6L158.00,350.1L158.50,350.8L159.00,354.5L159.50,347.8L160.00,340.1L160.50,344.9L161.00,340.6L161.50,336.7L162.00,345.0L162.50,343.5L163.00,348.6L163.50,345.2L164.00,337.2L164.50,294.2L165.00,335.6L165.50,341.8L166.00,334.4L166.50,337.6L167.00,345.6L167.50,339.2L168.00,335.3L168.50,343.6L169.00,339.9L169.50,328.1L170.00,336.2L170.50,323.2L171.00,319.3L171.50,310.5L172.00,323.9L172.50,321.7L173.00,313.6L173.50,315.2L174.00,324.0L174.50,324.3L175.00,324.1L175.50,331.4L176.00,341.3L176.50,329.6L177.00,335.2L177.50,331.8L178.00,332.6L178.50,323.5L179.00,329.3L179.50,335.9L180.00,330.7L180.50,326.9L181.00,336.1L181.50,329.3L182.00,331.6L182.50,325.7L183.00,330.6L183.50,320.1L184.00,314.8L184.50,322.2L185.00,320.0L185.50,324.3L186.00,307.8L186.50,293.8L187.00,323.9L187.50,300.4L188.00,321.6L188.50,319.5L189.00,317.4L189.50,315.1L190.00,309.9L190.50,310.8L191.00,309.9L191.50,316.9L192.00,322.8L192.50,316.6L193.00,322.4L193.50,324.9L194.00,313.9L194.50,314.2L195.00,328.5L195.50,329.2L196.00,335.1L196.50,329.9L197.00,334.2L197.50,331.2L198.00,329.3L198.50,335.4L199.00,337.3L199.50,343.0L200.00,344.2L200.50,345.0L201.00,339.7L201.50,342.0L202.00,341.2L202.50,338.8L203.00,345.1L203.50,351.0L204.00,337.3L204.50,343.1L205.00,344.1L205.50,346.7L206.00,338.9L206.50,344.5L207.00,342.7L207.50,345.5L208.00,350.3L208.50,359.7L209.00,350.0L209.50,351.3L210.00,352.3L210.50,350.3L211.00,351.4L211.50,351.2L212.00,296.0L212.50,350.1L213.00,355.1L213.50,348.8L214.00,352.5L214.50,352.4L215.00,352.2L215.50,355.3L216.00,356.8L216.50,352.8L217.00,351.0L217.50,353.7L218.00,354.7L218.50,350.2L219.00,356.8L219.50,352.4L220.00,355.5L220.50,353.9L221.00,356.8L221.50,356.2L222.00,355.0L222.50,354.9L223.00,357.4L223.50,357.3L224.00,355.8L224.50,355.6L225.00,354.0L225.50,356.3L226.00,353.0L226.50,353.0L227.00,356.7L227.50,357.2L228.00,357.2L228.50,358.9L229.00,357.1L229.50,358.1L230.00,356.7L230.50,356.7L231.00,357.9L231.50,361.9L232.00,360.3L232.50,358.8L233.00,357.7L233.50,361.0L234.00,357.1L234.50,355.5L235.00,359.4L235.50,360.7L236.00,360.4L236.50,364.4L237.00,362.4L237.50,361.8L238.00,362.3L238.50,364.3L239.00,365.3L239.50,364.7L240.00,363.7L240.50,362.9L241.00,364.1L241.50,367.0L242.00,362.8L242.50,365.9L243.00,365.2L243.50,365.8L244.00,364.3L244.50,363.9L245.00,363.1L245.50,365.0L246.00,365.5L246.50,362.8L247.00,365.2L247.50,363.0L248.00,365.8L248.50,365.9L249.00,365.5L249.50,366.3L250.00,364.9L250.50,364.0L251.00,365.7L251.50,360.9L252.00,365.2L252.50,363.8L253.00,362.6L253.50,366.6L254.00,364.8L254.50,364.4L255.00,365.3L255.50,365.8L256.00,364.5L256.50,363.4L257.00,364.0L257.50,365.4L258.00,336.4L258.50,368.7L259.00,365.5L259.50,366.2L260.00,366.3L260.50,363.7L261.00,364.5L261.50,365.1L262.00,365.8L262.50,363.9L263.00,366.8L263.50,363.7L264.00,366.8L264.50,367.2L265.00,365.7L265.50,365.1L266.00,366.0L266.50,366.1L267.00,364.9L267.50,365.1L268.00,365.0L268.50,367.9L269.00,366.1L269.50,362.8L270.00,365.0L270.50,364.9L271.00,361.9L271.50,367.4L272.00,366.8L272.50,364.1L273.00,365.3L273.50,364.0L274.00,366.4L274.50,376.8L275.00,382.7L275.50,377.8L276.00,382.4L276.50,382.4L277.00,382.7L277.50,380.2L278.00,382.1L278.50,384.7L279.00,384.5L279.50,387.7L280.00,379.3L280.50,380.8L281.00,379.4L281.50,371.3L282.00,363.3L282.50,337.5L283.00,346.1L283.50,353.4L284.00,348.9L284.50,349.2L285.00,354.5L285.50,356.6L286.00,352.0L286.50,351.1L287.00,356.8L287.50,364.9L288.00,366.0L288.50,363.3L289.00,361.4L289.50,365.8L290.00,358.9L290.50,369.9L291.00,370.2L291.50,370.5L292.00,374.9L292.50,375.5L293.00,371.7L293.50,373.6L294.00,372.7L294.50,381.3L295.00,380.8L295.50,385.4L296.00,379.7L296.50,377.6L297.00,380.1L297.50,380.8L298.00,374.6L298.50,362.4L299.00,347.5L299.50,354.5L300.00,350.5L300.50,358.2L301.00,353.0L301.50,358.3L302.00,362.3L302.50,357.0L303.00,359.4L303.50,359.5L304.00,356.6L304.50,348.4L305.00,346.9L305.50,346.7L306.00,343.3L306.50,344.4L307.00,337.4L307.50,337.7L308.00,335.5L308.50,336.8L309.00,328.5L309.50,325.3L310.00,321.1L310.50,321.1L311.00,317.2L311.50,316.0L312.00,320.1L312.50,323.4L313.00,328.6L313.50,320.6L314.00,323.2L314.50,329.4L315.00,329.5L315.50,332.0L316.00,339.6L316.50,337.2L317.00,337.0L317.50,341.6L318.00,337.7L318.50,335.8L319.00,343.2L319.50,336.4L320.00,335.9L320.50,326.5L321.00,321.8L321.50,313.1L322.00,318.0L322.50,313.8L323.00,312.8L323.50,313.3L324.00,314.0L324.50,317.0L325.00,318.8L325.50,318.8L326.00,320.1L326.50,323.6L327.00,322.6L327.50,330.7L328.00,279.3L328.50,331.9L329.00,325.6L329.50,327.7L330.00,330.2L330.50,324.0L331.00,318.1L331.50,320.1L332.00,322.4L332.50,331.8L333.00,326.7L333.50,322.9L334.00,323.5L334.50,339.0L335.00,335.7L335.50,332.4L336.00,341.4L336.50,339.5L337.00,343.1L337.50,340.7L338.00,348.2L338.50,348.1L339.00,349.3L339.50,341.5L340.00,346.3L340.50,351.3L341.00,358.0L341.50,352.9L342.00,351.6L342.50,345.8L343.00,354.6L343.50,346.8L344.00,344.8L344.50,346.8L345.00,345.0L345.50,353.2L346.00,352.5L346.50,344.2L347.00,348.0L347.50,345.8L348.00,354.3L348.50,360.5L349.00,356.7L349.50,361.3L350.00,361.5L350.50,360.5L351.00,358.9L351.50,367.0L352.00,365.8L352.50,366.3L353.00,365.5L353.50,364.1L354.00,363.2L354.50,367.0L355.00,365.9L355.50,366.9L356.00,364.8L356.50,363.6L357.00,360.7L357.50,365.7L358.00,365.1L358.50,364.9L359.00,363.2L359.50,364.1L360.00,366.8L360.50,364.7L361.00,363.2L361.50,365.4L362.00,364.2L362.50,362.2L363.00,366.5L363.50,368.5L364.00,364.9L364.50,365.8L365.00,363.9L365.50,365.1L366.00,365.5L366.50,366.2L367.00,363.4L367.50,366.2L368.00,361.0L368.50,363.3L369.00,366.8L369.50,365.9L370.00,365.9L370.50,363.0L371.00,364.2L371.50,365.9L372.00,366.2L372.50,364.6L373.00,361.9L373.50,362.0L374.00,310.9L374.50,365.9L375.00,364.8L375.50,365.5L376.00,365.3L376.50,365.7L377.00,364.7L377.50,366.3L378.00,366.9L378.50,365.8L379.00,364.3L379.50,366.7L380.00,366.8L380.50,365.1L381.00,363.6L381.50,364.6L382.00,364.5L382.50,366.8L383.00,361.2L383.50,364.5L384.00,365.6L384.50,364.9L385.00,368.0L385.50,365.8L386.00,366.3L386.50,367.9L387.00,365.5L387.50,365.4L388.00,367.3L388.50,365.1L389.00,365.6L389.50,366.4L390.00,363.6L390.50,367.0L391.00,366.1L391.50,366.8L392.00,374.9L392.50,384.9L393.00,383.7L393.50,383.1L394.00,382.1L394.50,384.4L395.00,385.1L395.50,382.6L396.00,383.5L396.50,380.8L397.00,382.0L397.50,382.7L398.00,381.1L398.50,382.6L399.00,384.7L399.50,382.4L400.00,383.4L400.50,380.4L401.00,384.6L401.50,383.5L402.00,381.8L402.50,383.6L403.00,386.5L403.50,387.4L404.00,385.6L404.50,387.4L405.00,388.2L405.50,384.4L406.00,384.8L406.50,387.6L407.00,385.6L407.50,384.9L408.00,384.4L408.50,384.0L409.00,383.8L409.50,385.1L410.00,387.7L410.50,386.0L411.00,385.6L411.50,386.8L412.00,385.1L412.50,384.8L413.00,386.1L413.50,387.2L414.00,385.0L414.50,384.5L415.00,384.0L415.50,386.5L416.00,388.1L416.50,385.4L417.00,386.1L417.50,388.1L418.00,386.7L418.50,385.7L419.00,386.6L419.50,386.8L420.00,386.5L420.50,383.8L421.00,386.1L421.50,385.3L422.00,386.7L422.50,386.2L423.00,385.1L423.50,381.8L424.00,378.1L424.50,384.7L425.00,385.7L425.50,373.2L426.00,382.4L426.50,383.7L427.00,384.6L427.50,375.0L428.00,376.4L428.50,381.2L429.00,380.3L429.50,371.5L430.00,377.0L430.50,382.2L431.00,379.1L431.50,361.3L432.00,358.4L432.50,356.1L433.00,354.8L433.50,357.5L434.00,355.4L434.50,358.8L435.00,354.3L435.50,358.4L436.00,358.6L436.50,359.9L437.00,355.8L437.50,354.8L438.00,357.9L438.50,355.4L439.00,358.5L439.50,354.8L440.00,353.5L440.50,357.4L441.00,358.5L441.50,354.1L442.00,358.1L442.50,351.0L443.00,355.6L443.50,354.0L444.00,350.4L444.50,340.6L445.00,343.6L445.50,344.5L446.00,344.4L446.50,345.1L447.00,339.7L447.50,339.5L448.00,340.7L448.50,335.2L449.00,337.6L449.50,337.8L450.00,337.7L450.50,334.8L451.00,339.3L451.50,339.2L452.00,334.6L452.50,341.9L453.00,336.6L453.50,338.3L454.00,340.5L454.50,343.8L455.00,340.6L455.50,341.8L456.00,345.5L456.50,340.4L457.00,331.9L457.50,335.4L458.00,328.8L458.50,320.4L459.00,311.5L459.50,303.7L460.00,310.1L460.50,278.4L461.00,324.3L461.50,329.5L462.00,328.3L462.50,332.7L463.00,335.2L463.50,334.3L464.00,335.7L464.50,327.5L465.00,333.3L465.50,337.0L466.00,341.7L466.50,341.1L467.00,341.7L467.50,342.4L468.00,343.5L468.50,347.8L469.00,343.3L469.50,348.5L470.00,352.7L470.50,353.4L471.00,361.3L471.50,362.5L472.00,362.5L472.50,357.5L473.00,360.0L473.50,361.7L474.00,361.8L474.50,359.0L475.00,360.7L475.50,359.4L476.00,359.8L476.50,365.7L477.00,357.5L477.50,362.4L478.00,361.0L478.50,361.7L479.00,363.3L479.50,361.4L480.00,361.5L480.50,362.1L481.00,362.3L481.50,360.1L482.00,361.2L482.50,363.1L483.00,363.6L483.50,358.8L484.00,362.3L484.50,360.8L485.00,362.5L485.50,365.3L486.00,361.3L486.50,366.0L487.00,361.8L487.50,360.7L488.00,361.8L488.50,360.8L489.00,366.0L489.50,359.0L490.00,360.9L490.50,360.4L491.00,363.9L491.50,363.9L492.00,363.8L492.50,361.4L493.00,363.9L493.50,364.5L494.00,362.8L494.50,361.6L495.00,362.0L495.50,360.7L496.00,362.0L496.50,363.0L497.00,363.8L497.50,362.3L498.00,363.5L498.50,363.5L499.00,364.8L499.50,367.0L500.00,365.2L500.50,364.1L501.00,363.4L501.50,362.9L502.00,362.8L502.50,364.0L503.00,362.7L503.50,364.2L504.00,363.9L504.50,362.7L505.00,364.2L505.50,362.1L506.00,366.8L506.50,361.4L507.00,363.6L507.50,363.9L508.00,363.3L508.50,366.1L509.00,367.4L509.50,364.4L510.00,367.4L510.50,365.1L511.00,363.6L511.50,364.0L512.00,364.9L512.50,363.6L513.00,364.9L513.50,364.5L514.00,362.5L514.50,363.3L515.00,364.9L515.50,364.9L516.00,366.2L516.50,363.2L517.00,361.5L517.50,366.6L518.00,362.8L518.50,363.5L519.00,367.3L519.50,366.8L520.00,364.5L520.50,367.1L521.00,367.2L521.50,364.7L522.00,365.2L522.50,365.7L523.00,368.4L523.50,366.5L524.00,365.8L524.50,365.0L525.00,368.9L525.50,364.8L526.00,367.2L526.50,366.8L527.00,364.6L527.50,368.2L528.00,367.9L528.50,386.0L529.00,382.1L529.50,386.7L530.00,387.3L530.50,387.3L531.00,386.7L531.50,383.0L532.00,384.1L532.50,384.7L533.00,386.3L533.50,388.0L534.00,386.2L534.50,385.0L535.00,384.8L535.50,388.2L536.00,384.7L536.50,383.6L537.00,386.3L537.50,385.1L538.00,382.9L538.50,381.6L539.00,386.7L539.50,385.7L540.00,385.7L540.50,387.0L541.00,383.4L541.50,387.8L542.00,386.4L542.50,387.0L543.00,386.1L543.50,384.8L544.00,386.1L544.50,385.8L545.00,386.0L545.50,383.5L546.00,384.1L546.50,385.6L547.00,386.7L547.50,383.3L548.00,386.3L548.50,383.9L549.00,384.5L549.50,386.8L550.00,384.0L550.50,386.0L551.00,383.1L551.50,386.1L552.00,384.3L552.50,384.9L553.00,383.2L553.50,385.4L554.00,384.8L554.50,384.1L555.00,385.6L555.50,386.9L556.00,383.5L556.50,382.6L557.00,386.0L557.50,384.1L558.00,382.4L558.50,384.5L559.00,383.8L559.50,385.2L560.00,384.0L560.50,383.0L561.00,385.1L561.50,385.0L562.00,385.0L562.50,383.6L563.00,383.7L563.50,382.1L564.00,386.1L564.50,387.3L565.00,386.2L565.50,387.3L566.00,384.2L566.50,385.4L567.00,386.2L567.50,385.0L568.00,385.6L568.50,383.5L569.00,383.1L569.50,384.5L570.00,384.7L570.50,384.8L571.00,385.3L571.50,382.0L572.00,367.9L572.50,366.8L573.00,365.3L573.50,368.3L574.00,363.1L574.50,366.9L575.00,367.2L575.50,364.0L576.00,365.2L576.50,365.6L577.00,364.1L577.50,364.8L578.00,367.3L578.50,364.3L579.00,365.1L579.50,367.8L580.00,369.3L580.50,367.0L581.00,362.7L581.50,362.2L582.00,360.1L582.50,365.4L583.00,359.8L583.50,362.9L584.00,364.9L584.50,363.9L585.00,363.9L585.50,365.2L586.00,367.2L586.50,361.9L587.00,364.7L587.50,362.6L588.00,366.2L588.50,364.9L589.00,361.3L589.50,362.9L590.00,359.1L590.50,358.5L591.00,358.4L591.50,358.6L592.00,355.8L592.50,354.8L593.00,353.5L593.50,350.4L594.00,351.6L594.50,349.4L595.00,353.9L595.50,351.7L596.00,347.4L596.50,350.9L597.00,349.0L597.50,345.9L598.00,352.3L598.50,349.7L599.00,352.1L599.50,351.7L600.00,349.3L600.50,351.0L601.00,352.5L601.50,348.5L602.00,352.1L602.50,351.0L603.00,353.2L603.50,351.3L604.00,352.6L604.50,350.1L605.00,350.7L605.50,351.0L606.00,355.2L606.50,354.6L607.00,356.3L607.50,355.6L608.00,356.7L608.50,358.2L609.00,363.1L609.50,361.8L610.00,363.5L610.50,363.5L611.00,363.6L611.50,364.7L612.00,363.6L612.50,367.8L613.00,361.9L613.50,366.9L614.00,363.4L614.50,368.0L615.00,362.7L615.50,366.9L616.00,369.1L616.50,368.7L617.00,367.5L617.50,367.5L618.00,368.5L618.50,370.4L619.00,371.6L619.50,370.6L620.00,372.6L620.50,375.8L621.00,374.6L621.50,373.0L622.00,374.3L622.50,374.2L623.00,376.6L623.50,366.1L624.00,374.8L624.50,373.5L625.00,377.1L625.50,369.9L626.00,374.0L626.50,376.8L627.00,372.3L627.50,375.6L628.00,373.7L628.50,371.8L629.00,375.3L629.50,373.9L630.00,376.6L630.50,373.3L631.00,373.9L631.50,375.9L632.00,374.9L632.50,374.6L633.00,376.4L633.50,377.7L634.00,372.4L634.50,375.4L635.00,372.9L635.50,374.3L636.00,374.6L636.50,376.0L637.00,373.3L637.50,376.2L638.00,371.5L638.50,374.5L639.00,373.8L639.50,375.2L640.00,373.1L640.50,373.1L641.00,374.7L641.50,372.8L642.00,373.0L642.50,374.0L643.00,373.9L643.50,375.5L644.00,345.2L644.50,383.7L645.00,385.2L645.50,384.8L646.00,385.0L646.50,386.2L647.00,386.9L647.50,383.7L648.00,382.0L648.50,387.0L649.00,386.1L649.50,385.1L650.00,384.7L650.00,410.1Z" fill="#ff00ff" fill-opacity="0.3" stroke="none"/>
<path d="M100.00,353.0L100.50,357.4L101.00,363.7L101.50,360.2L102.00,362.4L102.50,356.3L103.00,353.1L103.50,362.4L104.00,360.8L104.50,369.2L105.00,365.9L105.50,364.8L106.00,352.2L106.50,357.8L107.00,365.2L107.50,363.4L108.00,360.2L108.50,353.9L109.00,358.6L109.50,360.4L110.00,381.9L110.50,381.2L111.00,378.4L111.50,380.9L112.00,368.4L112.50,378.7L113.00,381.8L113.50,380.3L114.00,380.1L114.50,378.4L115.00,379.9L115.50,367.1L116.00,377.2L116.50,379.7L117.00,385.2L117.50,381.6L118.00,379.8L118.50,366.2L119.00,382.6L119.50,383.3L120.00,383.0L120.50,382.4L121.00,370.6L121.50,381.4L122.00,383.0L122.50,380.9L123.00,379.2L123.50,381.2L124.00,384.4L124.50,365.3L125.00,384.8L125.50,388.1L126.00,389.5L126.50,384.6L127.00,388.6L127.50,390.0L128.00,388.7L128.50,383.3L129.00,390.9L129.50,388.9L130.00,388.0L130.50,388.5L131.00,385.7L131.50,390.7L132.00,384.7L132.50,382.2L133.00,380.9L133.50,380.8L134.00,383.2L134.50,384.2L135.00,375.0L135.50,381.7L136.00,378.1L136.50,382.5L137.00,381.3L137.50,384.0L138.00,381.8L138.50,379.2L139.00,373.7L139.50,378.9L140.00,382.1L140.50,382.6L141.00,381.5L141.50,383.5L142.00,372.9L142.50,372.5L143.00,374.6L143.50,371.3L144.00,374.4L144.50,370.5L145.00,366.5L145.50,373.9L146.00,371.0L146.50,371.7L147.00,372.1L147.50,371.0L148.00,370.7L148.50,368.6L149.00,369.2L149.50,369.9L150.00,367.5L150.50,371.5L151.00,360.6L151.50,337.0L152.00,347.9L152.50,344.6L153.00,345.9L153.50,339.8L154.00,348.9L154.50,345.1L155.00,352.7L155.50,351.3L156.00,345.8L156.50,353.0L157.00,356.7L157.50,356.6L158.00,350.1L158.50,350.8L159.00,354.5L159.50,347.8L160.00,340.1L160.50,344.9L161.00,340.6L161.50,336.7L162.00,345.0L162.50,343.5L163.00,348.6L163.50,345.2L164.00,337.2L164.50,294.2L165.00,335.6L165.50,341.8L166.00,334.4L166.50,337.6L167.00,345.6L167.50,339.2L168.00,335.3L168.50,343.6L169.00,339.9L169.50,328.1L170.00,336.2L170.50,323.2L171.00,319.3L171.50,310.5L172.00,323.9L172.50,321.7L173.00,313.6L173.50,315.2L174.00,324.0L174.50,324.3L175.00,324.1L175.50,331.4L176.00,341.3L176.50,329.6L177.00,335.2L177.50,331.8L178.00,332.6L178.50,323.5L179.00,329.3L179.50,335.9L180.00,330.7L180.50,326.9L181.00,336.1L181.50,329.3L182.00,331.6L182.50,325.7L183.00,330.6L183.50,320.1L184.00,314.8L184.50,322.2L185.00,320.0L185.50,324.3L186.00,307.8L186.50,293.8L187.00,323.9L187.50,300.4L188.00,321.6L188.50,319.5L189.00,317.4L189.50,315.1L190.00,309.9L190.50,310.8L191.00,309.9L191.50,316.9L192.00,322.8L192.50,316.6L193.00,322.4L193.50,324.9L194.00,313.9L194.50,314.2L195.00,328.5L195.50,329.2L196.00,335.1L196.50,329.9L197.00,334.2L197.50,331.2L198.00,329.3L198.50,335.4L199.00,337.3L199.50,343.0L200.00,344.2L200.50,345.0L201.00,339.7L201.50,342.0L202.00,341.2L202.50,338.8L203.00,345.1L203.50,351.0L204.00,337.3L204.50,343.1L205.00,344.1L205.50,346.7L206.00,338.9L206.50,344.5L207.00,342.7L207.50,345.5L208.00,350.3L208.50,359.7L209.00,350.0L209.50,351.3L210.00,352.3L210.50,350.3L211.00,351.4L211.50,351.2L212.00,296.0L212.50,350.1L213.00,355.1L213.50,348.8L214.00,352.5L214.50,352.4L215.00,352.2L215.50,355.3L216.00,356.8L216.50,352.8L217.00,351.0L217.50,353.7L218.00,354.7L218.50,350.2L219.00,356.8L219.50,352.4L220.00,355.5L220.50,353.9L221.00,356.8L221.50,356.2L222.00,355.0L222.50,354.9L223.00,357.4L223.50,357.3L224.00,355.8L224.50,355.6L225.00,354.0L225.50,356.3L226.00,353.0L226.50,353.0L227.00,356.7L227.50,357.2L228.00,357.2L228.50,358.9L229.00,357.1L229.50,358.1L230.00,356.7L230.50,356.7L231.00,357.9L231.50,361.9L232.00,360.3L232.50,358.8L233.00,357.7L233.50,361.0L234.00,357.1L234.50,355.5L235.00,359.4L235.50,360.7L236.00,360.4L236.50,364.4L237.00,362.4L237.50,361.8L238.00,362.3L238.50,364.3L239.00,365.3L239.50,364.7L240.00,363.7L240.50,362.9L241.00,364.1L241.50,367.0L242.00,362.8L242.50,365.9L243.00,365.2L243.50,365.8L244.00,364.3L244.50,363.9L245.00,363.1L245.50,365.0L246.00,365.5L246.50,362.8L247.00,365.2L247.50,363.0L248.00,365.8L248.50,365.9L249.00,365.5L249.50,366.3L250.00,364.9L250.50,364.0L251.00,365.7L251.50,360.9L252.00,365.2L252.50,363.8L253.00,362.6L253.50,366.6L254.00,364.8L254.50,364.4L255.00,365.3L255.50,365.8L256.00,364.5L256.50,363.4L257.00,364.0L257.50,365.4L258.00,336.4L258.50,368.7L259.00,365.5L259.50,366.2L260.00,366.3L260.50,363.7L261.00,364.5L261.50,365.1L262.00,365.8L262.50,363.9L263.00,366.8L263.50,363.7L264.00,366.8L264.50,367.2L265.00,365.7L265.50,365.1L266.00,366.0L266.50,366.1L267.00,364.9L267.50,365.1L268.00,365.0L268.50,367.9L269.00,366.1L269.50,362.8L270.00,365.0L270.50,364.9L271.00,361.9L271.50,367.4L272.00,366.8L272.50,364.1L273.00,365.3L273.50,364.0L274.00,366.4L274.50,376.8L275.00,382.7L275.50,377.8L276.00,382.4L276.50,382.4L277.00,382.7L277.50,380.2L278.00,382.1L278.50,384.7L279.00,384.5L279.50,387.7L280.00,379.3L280.50,380.8L281.00,379.4L281.50,371.3L282.00,363.3L282.50,337.5L283.00,346.1L283.50,353.4L284.00,348.9L284.50,349.2L285.00,354.5L285.50,356.6L286.00,352.0L286.50,351.1L287.00,356.8L287.50,364.9L288.00,366.0L288.50,363.3L289.00,361.4L289.50,365.8L290.00,358.9L290.50,369.9L291.00,370.2L291.50,370.5L292.00,374.9L292.50,375.5L293.00,371.7L293.50,373.6L294.00,372.7L294.50,381.3L295.00,380.8L295.50,385.4L296.00,379.7L296.50,377.6L297.00,380.1L297.50,380.8L298.00,374.6L298.50,362.4L299.00,347.5L299.50,354.5L300.00,350.5L300.50,358.2L301.00,353.0L301.50,358.3L302.00,362.3L302.50,357.0L303.00,359.4L303.50,359.5L304.00,356.6L304.50,348.4L305.00,346.9L305.50,346.7L306.00,343.3L306.50,344.4L307.00,337.4L307.50,337.7L308.00,335.5L308.50,336.8L309.00,328.5L309.50,325.3L310.00,321.1L310.50,321.1L311.00,317.2L311.50,316.0L312.00,320.1L312.50,323.4L313.00,328.6L313.50,320.6L314.00,323.2L314.50,329.4L315.00,329.5L315.50,332.0L316.00,339.6L316.50,337.2L317.00,337.0L317.50,341.6L318.00,337.7L318.50,335.8L319.00,343.2L319.50,336.4L320.00,335.9L320.50,326.5L321.00,321.8L321.50,313.1L322.00,318.0L322.50,313.8L323.00,312.8L323.50,313.3L324.00,314.0L324.50,317.0L325.00,318.8L325.50,318.8L326.00,320.1L326.50,323.6L327.00,322.6L327.50,330.7L328.00,279.3L328.50,331.9L329.00,325.6L329.50,327.7L330.00,330.2L330.50,324.0L331.00,318.1L331.50,320.1L332.00,322.4L332.50,331.8L333.00,326.7L333.50,322.9L334.00,323.5L334.50,339.0L335.00,335.7L335.50,332.4L336.00,341.4L336.50,339.5L337.00,343.1L337.50,340.7L338.00,348.2L338.50,348.1L339.00,349.3L339.50,341.5L340.00,346.3L340.50,351.3L341.00,358.0L341.50,352.9L342.00,351.6L342.50,345.8L343.00,354.6L343.50,346.8L344.00,344.8L344.50,346.8L345.00,345.0L345.50,353.2L346.00,352.5L346.50,344.2L347.00,348.0L347.50,345.8L348.00,354.3L348.50,360.5L349.00,356.7L349.50,361.3L350.00,361.5L350.50,360.5L351.00,358.9L351.50,367.0L352.00,365.8L352.50,366.3L353.00,365.5L353.50,364.1L354.00,363.2L354.50,367.0L355.00,365.9L355.50,366.9L356.00,364.8L356.50,363.6L357.00,360.7L357.50,365.7L358.00,365.1L358.50,364.9L359.00,363.2L359.50,364.1L360.00,366.8L360.50,364.7L361.00,363.2L361.50,365.4L362.00,364.2L362.50,362.2L363.00,366.5L363.50,368.5L364.00,364.9L364.50,365.8L365.00,363.9L365.50,365.1L366.00,365.5L366.50,366.2L367.00,363.4L367.50,366.2L368.00,361.0L368.50,363.3L369.00,366.8L369.50,365.9L370.00,365.9L370.50,363.0L371.00,364.2L371.50,365.9L372.00,366.2L372.50,364.6L373.00,361.9L373.50,362.0L374.00,310.9L374.50,365.9L375.00,364.8L375.50,365.5L376.00,365.3L376.50,365.7L377.00,364.7L377.50,366.3L378.00,366.9L378.50,365.8L379.00,364.3L379.50,366.7L380.00,366.8L380.50,365.1L381.00,363.6L381.50,364.6L382.00,364.5L382.50,366.8L383.00,361.2L383.50,364.5L384.00,365.6L384.50,364.9L385.00,368.0L385.50,365.8L386.00,366.3L386.50,367.9L387.00,365.5L387.50,365.4L388.00,367.3L388.50,365.1L389.00,365.6L389.50,366.4L390.00,363.6L390.50,367.0L391.00,366.1L391.50,366.8L392.00,374.9L392.50,384.9L393.00,383.7L393.50,383.1L394.00,382.1L394.50,384.4L395.00,385.1L395.50,382.6L396.00,383.5L396.50,380.8L397.00,382.0L397.50,382.7L398.00,381.1L398.50,382.6L399.00,384.7L399.50,382.4L400.00,383.4L400.50,380.4L401.00,384.6L401.50,383.5L402.00,381.8L402.50,383.6L403.00,386.5L403.50,387.4L404.00,385.6L404.50,387.4L405.00,388.2L405.50,384.4L406.00,384.8L406.50,387.6L407.00,385.6L407.50,384.9L408.00,384.4L408.50,384.0L409.00,383.8L409.50,385.1L410.00,387.7L410.50,386.0L411.00,385.6L411.50,386.8L412.00,385.1L412.50,384.8L413.00,386.1L413.50,387.2L414.00,385.0L414.50,384.5L415.00,384.0L415.50,386.5L416.00,388.1L416.50,385.4L417.00,386.1L417.50,388.1L418.00,386.7L418.50,385.7L419.00,386.6L419.50,386.8L420.00,386.5L420.50,383.8L421.00,386.1L421.50,385.3L422.00,386.7L422.50,386.2L423.00,385.1L423.50,381.8L424.00,378.1L424.50,384.7L425.00,385.7L425.50,373.2L426.00,382.4L426.50,383.7L427.00,384.6L427.50,375.0L428.00,376.4L428.50,381.2L429.00,380.3L429.50,371.5L430.00,377.0L430.50,382.2L431.00,379.1L431.50,361.3L432.00,358.4L432.50,356.1L433.00,354.8L433.50,357.5L434.00,355.4L434.50,358.8L435.00,354.3L435.50,358.4L436.00,358.6L436.50,359.9L437.00,355.8L437.50,354.8L438.00,357.9L438.50,355.4L439.00,358.5L439.50,354.8L440.00,353.5L440.50,357.4L441.00,358.5L441.50,354.1L442.00,358.1L442.50,351.0L443.00,355.6L443.50,354.0L444.00,350.4L444.50,340.6L445.00,343.6L445.50,344.5L446.00,344.4L446.50,345.1L447.00,339.7L447.50,339.5L448.00,340.7L448.50,335.2L449.00,337.6L449.50,337.8L450.00,337.7L450.50,334.8L451.00,339.3L451.50,339.2L452.00,334.6L452.50,341.9L453.00,336.6L453.50,338.3L454.00,340.5L454.50,343.8L455.00,340.6L455.50,341.8L456.00,345.5L456.50,340.4L457.00,331.9L457.50,335.4L458.00,328.8L458.50,320.4L459.00,311.5L459.50,303.7L460.00,310.1L460.50,278.4L461.00,324.3L461.50,329.5L462.00,328.3L462.50,332.7L463.00,335.2L463.50,334.3L464.00,335.7L464.50,327.5L465.00,333.3L465.50,337.0L466.00,341.7L466.50,341.1L467.00,341.7L467.50,342.4L468.00,343.5L468.50,347.8L469.00,343.3L469.50,348.5L470.00,352.7L470.50,353.4L471.00,361.3L471.50,362.5L472.00,362.5L472.50,357.5L473.00,360.0L473.50,361.7L474.00,361.8L474.50,359.0L475.00,360.7L475.50,359.4L476.00,359.8L476.50,365.7L477.00,357.5L477.50,362.4L478.00,361.0L478.50,361.7L479.00,363.3L479.50,361.4L480.00,361.5L480.50,362.1L481.00,362.3L481.50,360.1L482.00,361.2L482.50,363.1L483.00,363.6L483.50,358.8L484.00,362.3L484.50,360.8L485.00,362.5L485.50,365.3L486.00,361.3L486.50,366.0L487.00,361.8L487.50,360.7L488.00,361.8L488.50,360.8L489.00,366.0L489.50,359.0L490.00,360.9L490.50,360.4L491.00,363.9L491.50,363.9L492.00,363.8L492.50,361.4L493.00,363.9L493.50,364.5L494.00,362.8L494.50,361.6L495.00,362.0L495.50,360.7L496.00,362.0L496.50,363.0L497.00,363.8L497.50,362.3L498.00,363.5L498.50,363.5L499.00,364.8L499.50,367.0L500.00,365.2L500.50,364.1L501.00,363.4L501.50,362.9L502.00,362.8L502.50,364.0L503.00,362.7L503.50,364.2L504.00,363.9L504.50,362.7L505.00,364.2L505.50,362.1L506.00,366.8L506.50,361.4L507.00,363.6L507.50,363.9L508.00,363.3L508.50,366.1L509.00,367.4L509.50,364.4L510.00,367.4L510.50,365.1L511.00,363.6L511.50,364.0L512.00,364.9L512.50,363.6L513.00,364.9L513.50,364.5L514.00,362.5L514.50,363.3L515.00,364.9L515.50,364.9L516.00,366.2L516.50,363.2L517.00,361.5L517.50,366.6L518.00,362.8L518.50,363.5L519.00,367.3L519.50,366.8L520.00,364.5L520.50,367.1L521.00,367.2L521.50,364.7L522.00,365.2L522.50,365.7L523.00,368.4L523.50,366.5L524.00,365.8L524.50,365.0L525.00,368.9L525.50,364.8L526.00,367.2L526.50,366.8L527.00,364.6L527.50,368.2L528.00,367.9L528.50,386.0L529.00,382.1L529.50,386.7L530.00,387.3L530.50,387.3L531.00,386.7L531.50,383.0L532.00,384.1L532.50,384.7L533.00,386.3L533.50,388.0L534.00,386.2L534.50,385.0L535.00,384.8L535.50,388.2L536.00,384.7L536.50,383.6L537.00,386.3L537.50,385.1L538.00,382.9L538.50,381.6L539.00,386.7L539.50,385.7L540.00,385.7L540.50,387.0L541.00,383.4L541.50,387.8L542.00,386.4L542.50,387.0L543.00,386.1L543.50,384.8L544.00,386.1L544.50,385.8L545.00,386.0L545.50,383.5L546.00,384.1L546.50,385.6L547.00,386.7L547.50,383.3L548.00,386.3L548.50,383.9L549.00,384.5L549.50,386.8L550.00,384.0L550.50,386.0L551.00,383.1L551.50,386.1L552.00,384.3L552.50,384.9L553.00,383.2L553.50,385.4L554.00,384.8L554.50,384.1L555.00,385.6L555.50,386.9L556.00,383.5L556.50,382.6L557.00,386.0L557.50,384.1L558.00,382.4L558.50,384.5L559.00,383.8L559.50,385.2L560.00,384.0L560.50,383.0L561.00,385.1L561.50,385.0L562.00,385.0L562.50,383.6L563.00,383.7L563.50,382.1L564.00,386.1L564.50,387.3L565.00,386.2L565.50,387.3L566.00,384.2L566.50,385.4L567.00,386.2L567.50,385.0L568.00,385.6L568.50,383.5L569.00,383.1L569.50,384.5L570.00,384.7L570.50,384.8L571.00,385.3L571.50,382.0L572.00,367.9L572.50,366.8L573.00,365.3L573.50,368.3L574.00,363.1L574.50,366.9L575.00,367.2L575.50,364.0L576.00,365.2L576.50,365.6L577.00,364.1L577.50,364.8L578.00,367.3L578.50,364.3L579.00,365.1L579.50,367.8L580.00,369.3L580.50,367.0L581.00,362.7L581.50,362.2L582.00,360.1L582.50,365.4L583.00,359.8L583.50,362.9L584.00,364.9L584.50,363.9L585.00,363.9L585.50,365.2L586.00,367.2L586.50,361.9L587.00,364.7L587.50,362.6L588.00,366.2L588.50,364.9L589.00,361.3L589.50,362.9L590.00,359.1L590.50,358.5L591.00,358.4L591.50,358.6L592.00,355.8L592.50,354.8L593.00,353.5L593.50,350.4L594.00,351.6L594.50,349.4L595.00,353.9L595.50,351.7L596.00,347.4L596.50,350.9L597.00,349.0L597.50,345.9L598.00,352.3L598.50,349.7L599.00,352.1L599.50,351.7L600.00,349.3L600.50,351.0L601.00,352.5L601.50,348.5L602.00,352.1L602.50,351.0L603.00,353.2L603.50,351.3L604.00,352.6L604.50,350.1L605.00,350.7L605.50,351.0L606.00,355.2L606.50,354.6L607.00,356.3L607.50,355.6L608.00,356.7L608.50,358.2L609.00,363.1L609.50,361.8L610.00,363.5L610.50,363.5L611.00,363.6L611.50,364.7L612.00,363.6L612.50,367.8L613.00,361.9L613.50,366.9L614.00,363.4L614.50,368.0L615.00,362.7L615.50,366.9L616.00,369.1L616.50,368.7L617.00,367.5L617.50,367.5L618.00,368.5L618.50,370.4L619.00,371.6L619.50,370.6L620.00,372.6L620.50,375.8L621.00,374.6L621.50,373.0L622.00,374.3L622.50,374.2L623.00,376.6L623.50,366.1L624.00,374.8L624.50,373.5L625.00,377.1L625.50,369.9L626.00,374.0L626.50,376.8L627.00,372.3L627.50,375.6L628.00,373.7L628.50,371.8L629.00,375.3L629.50,373.9L630.00,376.6L630.50,373.3L631.00,373.9L631.50,375.9L632.00,374.9L632.50,374.6L633.00,376.4L633.50,377.7L634.00,372.4L634.50,375.4L635.00,372.9L635.50,374.3L636.00,374.6L636.50,376.0L637.00,373.3L637.50,376.2L638.00,371.5L638.50,374.5L639.00,373.8L639.50,375.2L640.00,373.1L640.50,373.1L641.00,374.7L641.50,372.8L642.00,373.0L642.50,374.0L643.00,373.9L643.50,375.5L644.00,345.2L644.50,383.7L645.00,385.2L645.50,384.8L646.00,385.0L646.50,386.2L647.00,386.9L647.50,383.7L648.00,382.0L648.50,387.0L649.00,386.1L649.50,385.1L650.00,384.7" fill="none" stroke="#ff00ff" stroke-width="1.5" stroke-opacity="0.85" stroke-linejoin="round"/>
<path d="M146.50,410.1L146.50,410.6L197.50,410.6L197.50,410.1Z" fill="#ffff00" fill-opacity="0.3" stroke="none"/>
<path d="M146.50,410.6L197.50,410.6" fill="none" stroke="#ffff00" stroke-width="1.1" stroke-opacity="0.8" stroke-linejoin="round"/>
<path d="M100,410.1H146.5M197.5,410.1H650" fill="none" stroke="#dd7038" stroke-opacity="0.92" stroke-width="1.6"/>
<path d="M146.50,410.1L146.50,410.1L147.00,401.9L153.00,401.9L153.00,410.1L153.80,410.1L153.80,401.2L162.80,401.2L162.80,410.1L164.80,410.1L164.80,401.3L166.30,401.3L166.30,410.1L166.80,410.1L166.80,402.2L172.50,402.2L172.80,389.0L173.10,402.2L175.80,402.2L175.80,410.1L176.30,410.1L176.30,401.8L177.80,401.8L177.80,410.1L178.30,410.1L178.30,401.6L182.30,401.6L182.30,410.1L184.30,410.1L184.30,402.2L186.80,402.2L186.80,410.1L187.30,410.1L187.30,401.9L188.30,402.2L188.60,393.0L188.90,402.2L191.30,401.9L191.30,410.1L192.30,410.1L192.30,401.4L194.80,401.4L194.80,410.1L195.20,410.1L195.20,401.5L197.50,410.1L197.50,410.1Z" fill="#e6003c" fill-opacity="0.3" stroke="none"/>
<path d="M146.50,410.1L147.00,401.9L153.00,401.9L153.00,410.1L153.80,410.1L153.80,401.2L162.80,401.2L162.80,410.1L164.80,410.1L164.80,401.3L166.30,401.3L166.30,410.1L166.80,410.1L166.80,402.2L172.50,402.2L172.80,389.0L173.10,402.2L175.80,402.2L175.80,410.1L176.30,410.1L176.30,401.8L177.80,401.8L177.80,410.1L178.30,410.1L178.30,401.6L182.30,401.6L182.30,410.1L184.30,410.1L184.30,402.2L186.80,402.2L186.80,410.1L187.30,410.1L187.30,401.9L188.30,402.2L188.60,393.0L188.90,402.2L191.30,401.9L191.30,410.1L192.30,410.1L192.30,401.4L194.80,401.4L194.80,410.1L195.20,410.1L195.20,401.5L197.50,410.1" fill="none" stroke="#e6003c" stroke-width="1.2" stroke-opacity="0.8" stroke-linejoin="round"/>
<path d="M100.00,410.1L100.00,399.9L100.25,402.4L100.50,398.2L100.75,401.2L101.00,397.0L101.25,400.0L101.50,399.8L101.75,393.6L102.00,398.9L102.25,401.5L102.50,398.2L102.75,400.0L103.00,400.9L103.25,399.8L103.50,402.0L103.75,397.2L104.00,400.2L104.25,410.1L104.50,398.8L104.75,403.9L105.00,400.7L105.25,400.0L105.50,398.9L105.75,401.9L106.00,396.6L106.25,400.6L106.50,392.0L106.75,398.2L107.00,401.7L107.25,401.7L107.50,410.1L107.75,400.2L108.00,403.9L108.25,397.8L108.50,396.2L108.75,400.0L109.00,398.8L109.25,400.7L109.50,400.1L109.75,403.7L110.00,395.3L110.25,397.7L110.50,397.8L110.75,396.7L111.00,401.1L111.25,403.3L111.50,396.3L111.75,398.2L112.00,402.1L112.25,396.4L112.50,397.0L112.75,399.1L113.00,397.0L113.25,399.6L113.50,400.2L113.75,398.3L114.00,399.8L114.25,396.9L114.50,400.4L114.75,397.7L115.00,399.6L115.25,401.5L115.50,396.9L115.75,399.2L116.00,395.5L116.25,395.6L116.50,401.8L116.75,403.0L117.00,398.0L117.25,399.4L117.50,402.0L117.75,399.6L118.00,398.8L118.25,401.7L118.50,402.5L118.75,397.3L119.00,400.9L119.25,410.1L119.50,400.8L119.75,401.1L120.00,398.8L120.25,401.8L120.50,401.5L120.75,395.9L121.00,399.0L121.25,400.9L121.50,400.2L121.75,401.5L122.00,400.6L122.25,397.0L122.50,399.1L122.75,399.8L123.00,397.5L123.25,399.3L123.50,396.1L123.75,397.7L124.00,410.1L124.25,399.5L124.50,401.3L124.75,397.4L125.00,398.5L125.25,401.2L125.50,400.0L125.75,398.9L126.00,401.3L126.25,398.2L126.50,402.0L126.75,399.7L127.00,396.2L127.25,394.9L127.50,399.1L127.75,399.6L128.00,400.6L128.25,410.1L128.50,398.7L128.75,397.1L129.00,400.8L129.25,401.5L129.50,398.8L129.75,397.9L130.00,399.1L130.25,398.1L130.50,399.5L130.75,397.4L131.00,399.0L131.25,400.4L131.50,398.0L131.75,401.3L132.00,396.6L132.25,398.4L132.50,399.3L132.75,401.3L133.00,404.5L133.25,400.3L133.50,399.5L133.75,399.5L134.00,398.4L134.25,401.4L134.50,400.5L134.75,399.1L135.00,400.4L135.25,400.8L135.50,397.5L135.75,398.0L136.00,402.8L136.25,397.8L136.50,401.2L136.75,398.8L137.00,410.1L137.25,398.7L137.50,399.1L137.75,399.9L138.00,397.7L138.25,399.2L138.50,396.3L138.75,399.3L139.00,399.0L139.25,400.5L139.50,399.9L139.75,403.2L140.00,394.5L140.25,398.3L140.50,398.6L140.75,399.6L141.00,400.2L141.25,401.9L141.50,395.8L141.75,397.5L142.00,396.0L142.25,397.3L142.50,410.1L142.75,397.4L143.00,400.9L143.25,402.3L143.50,401.3L143.75,400.5L144.00,401.9L144.25,396.3L144.50,399.7L144.75,395.2L145.00,402.3L145.25,399.8L145.50,404.7L145.75,401.4L146.00,410.1L146.25,396.6L146.50,400.1L146.75,398.7L147.00,398.6L147.25,396.7L147.50,401.5L147.75,398.3L148.00,399.5L148.25,403.0L148.50,410.1L148.75,397.3L149.00,398.2L149.25,399.8L149.50,398.1L149.75,396.4L150.00,398.2L150.25,399.1L150.50,397.4L150.75,400.2L151.00,398.9L151.25,403.4L151.50,396.0L151.75,398.8L152.00,401.6L152.25,400.2L152.50,400.6L152.75,397.5L153.00,410.1L153.25,400.1L153.50,402.0L153.75,397.6L154.00,398.2L154.25,401.0L154.50,399.8L154.75,395.5L155.00,397.6L155.25,403.7L155.50,396.1L155.75,401.1L156.00,399.0L156.25,400.2L156.50,401.4L156.75,399.4L157.00,398.7L157.25,410.1L157.50,400.7L157.75,398.0L158.00,399.6L158.25,400.6L158.50,402.9L158.75,399.1L159.00,397.2L159.25,398.3L159.50,399.9L159.75,402.5L160.00,399.2L160.25,397.6L160.50,400.8L160.75,400.0L161.00,410.1L161.25,399.0L161.50,401.4L161.75,400.0L162.00,397.5L162.25,399.8L162.50,399.4L162.75,399.1L163.00,396.7L163.25,400.3L163.50,399.8L163.75,400.7L164.00,400.3L164.25,400.5L164.50,400.9L164.75,399.6L165.00,400.0L165.25,398.7L165.50,398.0L165.75,397.7L166.00,397.8L166.25,399.7L166.50,399.9L166.75,398.0L167.00,398.1L167.25,399.0L167.50,398.5L167.75,396.7L168.00,400.4L168.25,398.5L168.50,399.6L168.75,401.7L169.00,397.9L169.25,398.0L169.50,398.2L169.75,395.2L170.00,398.1L170.25,396.6L170.50,397.6L170.75,399.6L171.00,393.5L171.25,397.3L171.50,397.6L171.75,396.9L172.00,399.8L172.25,395.6L172.50,394.2L172.75,398.3L173.00,396.8L173.25,400.7L173.50,410.1L173.75,391.3L174.00,397.9L174.25,398.3L174.50,401.6L174.75,395.5L175.00,396.5L175.25,392.8L175.50,396.4L175.75,393.9L176.00,395.4L176.25,393.2L176.50,394.0L176.75,392.4L177.00,395.0L177.25,395.6L177.50,396.6L177.75,395.8L178.00,410.1L178.25,395.0L178.50,395.7L178.75,394.9L179.00,394.7L179.25,393.4L179.50,393.9L179.75,396.1L180.00,393.9L180.25,397.7L180.50,396.4L180.75,396.1L181.00,396.2L181.25,393.8L181.50,397.8L181.75,410.1L182.00,394.1L182.25,395.3L182.50,395.4L182.75,395.7L183.00,395.0L183.25,396.1L183.50,394.9L183.75,392.7L184.00,393.2L184.25,395.5L184.50,397.6L184.75,395.1L185.00,396.3L185.25,395.8L185.50,389.4L185.75,391.5L186.00,391.0L186.25,393.2L186.50,386.6L186.75,391.3L187.00,386.5L187.25,383.7L187.50,383.8L187.75,388.5L188.00,387.0L188.25,386.3L188.50,389.2L188.75,389.4L189.00,391.7L189.25,390.4L189.50,389.6L189.75,390.9L190.00,395.6L190.25,392.1L190.50,390.1L190.75,394.3L191.00,394.2L191.25,394.2L191.50,390.8L191.75,393.8L192.00,394.0L192.25,394.6L192.50,391.0L192.75,397.0L193.00,410.1L193.25,395.4L193.50,397.1L193.75,395.9L194.00,395.0L194.25,390.6L194.50,395.2L194.75,394.7L195.00,397.1L195.25,392.6L195.50,395.1L195.75,391.6L196.00,398.1L196.25,398.0L196.50,395.7L196.75,396.1L197.00,393.9L197.25,397.9L197.50,396.7L197.75,399.3L198.00,396.8L198.25,395.2L198.50,401.0L198.75,398.9L199.00,397.6L199.25,397.9L199.50,393.9L199.75,395.7L200.00,398.4L200.25,398.6L200.50,410.1L200.75,398.4L201.00,394.9L201.25,398.0L201.50,397.7L201.75,402.3L202.00,399.1L202.25,401.0L202.50,396.9L202.75,396.1L203.00,398.5L203.25,400.5L203.50,397.9L203.75,396.7L204.00,410.1L204.25,398.6L204.50,396.2L204.75,395.6L205.00,398.1L205.25,396.6L205.50,401.8L205.75,397.4L206.00,394.6L206.25,398.9L206.50,399.3L206.75,398.1L207.00,401.8L207.25,401.1L207.50,397.5L207.75,395.7L208.00,395.0L208.25,397.4L208.50,397.0L208.75,398.8L209.00,410.1L209.25,396.5L209.50,400.9L209.75,401.3L210.00,400.0L210.25,397.1L210.50,399.2L210.75,399.0L211.00,398.1L211.25,399.2L211.50,395.8L211.75,397.2L212.00,398.6L212.25,398.5L212.50,398.1L212.75,398.4L213.00,400.6L213.25,398.6L213.50,400.5L213.75,398.9L214.00,410.1L214.25,399.6L214.50,399.0L214.75,403.0L215.00,398.3L215.25,399.4L215.50,394.5L215.75,399.1L216.00,398.6L216.25,400.0L216.50,397.0L216.75,396.8L217.00,399.8L217.25,397.7L217.50,399.1L217.75,398.4L218.00,393.7L218.25,397.4L218.50,410.1L218.75,396.5L219.00,399.7L219.25,396.4L219.50,400.2L219.75,398.2L220.00,395.8L220.25,398.7L220.50,396.0L220.75,400.2L221.00,401.2L221.25,394.5L221.50,398.4L221.75,398.0L222.00,396.4L222.25,400.6L222.50,401.7L222.75,398.6L223.00,397.8L223.25,399.1L223.50,399.5L223.75,400.2L224.00,398.4L224.25,392.8L224.50,398.5L224.75,401.8L225.00,397.5L225.25,397.0L225.50,395.6L225.75,397.3L226.00,410.1L226.25,400.5L226.50,397.9L226.75,400.3L227.00,400.5L227.25,399.3L227.50,396.0L227.75,401.6L228.00,397.8L228.25,399.7L228.50,399.7L228.75,398.8L229.00,398.9L229.25,401.7L229.50,398.4L229.75,400.7L230.00,400.6L230.25,396.5L230.50,397.9L230.75,399.4L231.00,401.3L231.25,400.4L231.50,401.3L231.75,399.4L232.00,399.8L232.25,400.0L232.50,398.8L232.75,399.6L233.00,396.4L233.25,399.7L233.50,410.1L233.75,397.9L234.00,398.2L234.25,396.6L234.50,397.8L234.75,398.4L235.00,396.8L235.25,399.3L235.50,397.2L235.75,399.5L236.00,404.0L236.25,400.9L236.50,397.1L236.75,400.9L237.00,398.1L237.25,399.6L237.50,401.2L237.75,394.8L238.00,396.2L238.25,399.8L238.50,401.0L238.75,398.6L239.00,395.9L239.25,401.1L239.50,399.0L239.75,398.8L240.00,398.2L240.25,402.3L240.50,399.5L240.75,399.7L241.00,399.3L241.25,398.4L241.50,399.5L241.75,399.4L242.00,401.6L242.25,397.8L242.50,396.9L242.75,399.5L243.00,399.7L243.25,399.9L243.50,396.1L243.75,400.3L244.00,397.9L244.25,395.2L244.50,403.1L244.75,399.2L245.00,395.9L245.25,399.2L245.50,399.8L245.75,400.0L246.00,410.1L246.25,399.1L246.50,400.3L246.75,399.4L247.00,400.5L247.25,401.5L247.50,398.9L247.75,395.3L248.00,400.9L248.25,399.7L248.50,399.7L248.75,402.3L249.00,399.7L249.25,399.2L249.50,399.6L249.75,398.3L250.00,401.4L250.25,397.9L250.50,398.1L250.75,396.7L251.00,399.1L251.25,400.7L251.50,399.3L251.75,399.3L252.00,396.3L252.25,396.4L252.50,397.1L252.75,401.2L253.00,399.3L253.25,401.4L253.50,401.3L253.75,399.7L254.00,403.7L254.25,396.3L254.50,398.8L254.75,400.3L255.00,399.8L255.25,399.0L255.50,396.5L255.75,398.2L256.00,399.3L256.25,395.4L256.50,399.0L256.75,396.4L257.00,398.5L257.25,400.9L257.50,403.1L257.75,397.9L258.00,398.8L258.25,398.6L258.50,398.9L258.75,400.0L259.00,400.6L259.25,399.2L259.50,398.6L259.75,398.2L260.00,399.4L260.25,397.9L260.50,400.6L260.75,399.3L261.00,399.9L261.25,403.6L261.50,400.0L261.75,400.6L262.00,399.8L262.25,400.3L262.50,399.8L262.75,397.1L263.00,400.2L263.25,399.4L263.50,398.5L263.75,396.6L264.00,397.5L264.25,401.2L264.50,398.1L264.75,403.5L265.00,403.0L265.25,402.1L265.50,410.1L265.75,398.5L266.00,400.2L266.25,399.8L266.50,396.7L266.75,397.3L267.00,399.1L267.25,399.3L267.50,397.4L267.75,397.4L268.00,397.1L268.25,397.5L268.50,396.7L268.75,397.8L269.00,396.9L269.25,400.3L269.50,394.6L269.75,396.8L270.00,395.2L270.25,401.1L270.50,399.5L270.75,397.0L271.00,396.7L271.25,399.2L271.50,397.0L271.75,400.1L272.00,399.0L272.25,398.8L272.50,401.5L272.75,397.1L273.00,399.4L273.25,398.6L273.50,396.0L273.75,400.7L274.00,400.9L274.25,400.0L274.50,410.1L274.75,400.7L275.00,399.2L275.25,404.4L275.50,400.0L275.75,400.8L276.00,395.4L276.25,399.1L276.50,399.4L276.75,400.0L277.00,399.7L277.25,400.3L277.50,400.0L277.75,395.9L278.00,399.1L278.25,396.8L278.50,397.7L278.75,401.1L279.00,399.7L279.25,403.3L279.50,399.7L279.75,410.1L280.00,399.9L280.25,400.7L280.50,398.6L280.75,403.6L281.00,397.6L281.25,400.2L281.50,398.3L281.75,400.8L282.00,399.9L282.25,397.9L282.50,398.3L282.75,400.0L283.00,399.7L283.25,397.4L283.50,399.6L283.75,400.3L284.00,398.4L284.25,397.3L284.50,398.2L284.75,398.7L285.00,397.9L285.25,399.9L285.50,394.5L285.75,396.5L286.00,398.9L286.25,396.2L286.50,397.5L286.75,399.1L287.00,398.8L287.25,401.0L287.50,400.4L287.75,399.2L288.00,398.9L288.25,397.8L288.50,400.5L288.75,402.0L289.00,396.1L289.25,398.0L289.50,399.8L289.75,398.1L290.00,401.7L290.25,400.5L290.50,400.4L290.75,400.0L291.00,400.1L291.25,394.6L291.50,400.1L291.75,401.4L292.00,399.4L292.25,397.8L292.50,399.7L292.75,400.4L293.00,400.9L293.25,398.3L293.50,397.9L293.75,398.0L294.00,398.2L294.25,398.7L294.50,397.9L294.75,399.8L295.00,399.8L295.25,399.1L295.50,397.0L295.75,398.0L296.00,401.8L296.25,398.9L296.50,401.2L296.75,395.7L297.00,397.8L297.25,398.4L297.50,396.7L297.75,396.4L298.00,399.8L298.25,399.0L298.50,399.5L298.75,400.8L299.00,395.4L299.25,397.3L299.50,397.1L299.75,395.6L300.00,392.4L300.25,397.5L300.50,396.4L300.75,394.6L301.00,398.9L301.25,391.7L301.50,392.4L301.75,398.7L302.00,400.6L302.25,397.9L302.50,397.3L302.75,397.4L303.00,397.2L303.25,395.6L303.50,393.6L303.75,396.0L304.00,398.2L304.25,397.4L304.50,398.1L304.75,396.3L305.00,400.8L305.25,393.4L305.50,395.7L305.75,395.6L306.00,398.2L306.25,393.2L306.50,397.7L306.75,397.6L307.00,396.6L307.25,397.9L307.50,396.1L307.75,396.8L308.00,398.1L308.25,396.4L308.50,400.9L308.75,393.9L309.00,397.7L309.25,398.0L309.50,397.4L309.75,395.0L310.00,398.7L310.25,396.9L310.50,395.9L310.75,397.7L311.00,391.6L311.25,396.4L311.50,399.8L311.75,394.2L312.00,396.6L312.25,391.9L312.50,397.0L312.75,390.4L313.00,396.2L313.25,392.2L313.50,390.4L313.75,395.8L314.00,394.0L314.25,394.6L314.50,394.3L314.75,395.8L315.00,393.3L315.25,394.2L315.50,397.4L315.75,394.9L316.00,396.0L316.25,390.4L316.50,393.9L316.75,393.0L317.00,390.6L317.25,394.6L317.50,391.2L317.75,396.0L318.00,391.1L318.25,391.8L318.50,390.6L318.75,390.5L319.00,393.0L319.25,390.0L319.50,392.6L319.75,385.7L320.00,394.2L320.25,391.6L320.50,392.2L320.75,388.8L321.00,391.5L321.25,389.5L321.50,390.6L321.75,390.8L322.00,391.0L322.25,388.8L322.50,388.1L322.75,389.2L323.00,389.8L323.25,388.6L323.50,388.2L323.75,389.2L324.00,381.5L324.25,378.9L324.50,371.6L324.75,371.3L325.00,378.4L325.25,380.2L325.50,376.1L325.75,381.5L326.00,379.6L326.25,386.7L326.50,382.3L326.75,383.4L327.00,382.4L327.25,383.7L327.50,388.1L327.75,388.3L328.00,385.1L328.25,384.7L328.50,386.2L328.75,387.4L329.00,388.0L329.25,388.7L329.50,385.1L329.75,385.9L330.00,386.5L330.25,389.4L330.50,387.6L330.75,388.5L331.00,389.9L331.25,389.7L331.50,388.0L331.75,393.7L332.00,392.1L332.25,390.7L332.50,388.2L332.75,389.1L333.00,392.2L333.25,393.6L333.50,389.3L333.75,389.7L334.00,388.8L334.25,391.1L334.50,390.8L334.75,389.9L335.00,390.9L335.25,393.1L335.50,391.0L335.75,391.4L336.00,388.6L336.25,392.2L336.50,396.5L336.75,392.4L337.00,390.8L337.25,390.8L337.50,391.5L337.75,391.7L338.00,395.1L338.25,392.9L338.50,392.4L338.75,395.0L339.00,395.6L339.25,390.7L339.50,394.1L339.75,395.8L340.00,391.8L340.25,394.3L340.50,397.1L340.75,396.9L341.00,398.2L341.25,395.0L341.50,396.6L341.75,399.3L342.00,394.8L342.25,397.9L342.50,397.3L342.75,396.8L343.00,398.4L343.25,397.1L343.50,395.4L343.75,398.6L344.00,395.7L344.25,398.7L344.50,398.8L344.75,396.5L345.00,400.1L345.25,399.2L345.50,396.6L345.75,396.4L346.00,399.4L346.25,395.4L346.50,399.7L346.75,397.8L347.00,397.5L347.25,397.4L347.50,396.3L347.75,397.5L348.00,396.6L348.25,396.0L348.50,400.2L348.75,398.2L349.00,397.5L349.25,395.8L349.50,398.3L349.75,397.6L350.00,396.8L350.25,398.8L350.50,400.0L350.75,395.2L351.00,396.6L351.25,399.3L351.50,401.6L351.75,393.1L352.00,396.7L352.25,396.0L352.50,396.3L352.75,394.3L353.00,399.6L353.25,394.1L353.50,395.2L353.75,396.8L354.00,400.9L354.25,399.8L354.50,400.3L354.75,398.3L355.00,395.7L355.25,398.4L355.50,393.8L355.75,396.3L356.00,399.4L356.25,397.0L356.50,397.0L356.75,396.7L357.00,395.7L357.25,398.5L357.50,399.5L357.75,401.2L358.00,398.4L358.25,396.0L358.50,395.2L358.75,401.3L359.00,398.8L359.25,397.5L359.50,401.4L359.75,398.5L360.00,399.1L360.25,394.3L360.50,397.6L360.75,398.8L361.00,399.5L361.25,396.2L361.50,397.4L361.75,398.2L362.00,397.6L362.25,399.3L362.50,398.7L362.75,400.4L363.00,396.5L363.25,398.5L363.50,398.4L363.75,400.0L364.00,397.3L364.25,399.2L364.50,397.4L364.75,399.0L365.00,399.7L365.25,397.0L365.50,398.0L365.75,397.6L366.00,399.8L366.25,397.8L366.50,400.3L366.75,398.4L367.00,402.3L367.25,402.5L367.50,399.4L367.75,395.8L368.00,398.4L368.25,400.7L368.50,398.4L368.75,397.9L369.00,398.1L369.25,397.2L369.50,398.7L369.75,401.6L370.00,399.1L370.25,397.0L370.50,398.9L370.75,398.1L371.00,401.4L371.25,398.8L371.50,399.0L371.75,396.7L372.00,396.3L372.25,399.7L372.50,398.3L372.75,398.3L373.00,399.6L373.25,400.3L373.50,399.9L373.75,399.6L374.00,401.9L374.25,399.3L374.50,396.4L374.75,396.3L375.00,400.0L375.25,399.4L375.50,395.1L375.75,401.2L376.00,399.0L376.25,397.8L376.50,395.8L376.75,398.7L377.00,399.4L377.25,399.1L377.50,399.0L377.75,398.5L378.00,398.5L378.25,398.1L378.50,398.5L378.75,396.6L379.00,398.5L379.25,400.1L379.50,396.4L379.75,396.8L380.00,401.0L380.25,395.1L380.50,399.6L380.75,395.7L381.00,396.3L381.25,396.6L381.50,398.1L381.75,396.8L382.00,396.8L382.25,400.3L382.50,399.8L382.75,398.8L383.00,396.8L383.25,397.4L383.50,401.9L383.75,400.1L384.00,397.2L384.25,401.7L384.50,397.2L384.75,398.3L385.00,398.4L385.25,398.8L385.50,396.6L385.75,398.0L386.00,399.0L386.25,397.0L386.50,398.9L386.75,398.2L387.00,399.1L387.25,395.8L387.50,399.5L387.75,402.9L388.00,402.4L388.25,398.9L388.50,396.0L388.75,397.8L389.00,397.0L389.25,397.0L389.50,399.2L389.75,399.4L390.00,399.0L390.25,401.2L390.50,397.0L390.75,399.6L391.00,396.4L391.25,400.0L391.50,398.9L391.75,400.4L392.00,399.6L392.25,400.2L392.50,399.1L392.75,398.0L393.00,395.7L393.25,399.8L393.50,396.9L393.75,396.8L394.00,396.5L394.25,395.6L394.50,399.4L394.75,393.8L395.00,400.9L395.25,397.1L395.50,399.1L395.75,401.1L396.00,400.2L396.25,398.7L396.50,399.5L396.75,396.7L397.00,397.3L397.25,400.1L397.50,400.8L397.75,397.2L398.00,395.3L398.25,400.9L398.50,399.6L398.75,396.5L399.00,395.9L399.25,395.2L399.50,397.8L399.75,398.7L400.00,398.9L400.25,398.5L400.50,395.5L400.75,397.9L401.00,400.4L401.25,401.0L401.50,395.3L401.75,397.1L402.00,399.8L402.25,401.0L402.50,395.9L402.75,396.9L403.00,400.3L403.25,399.5L403.50,397.8L403.75,395.2L404.00,398.4L404.25,399.3L404.50,398.4L404.75,398.9L405.00,399.5L405.25,399.9L405.50,400.0L405.75,398.0L406.00,397.1L406.25,397.1L406.50,399.3L406.75,396.4L407.00,398.5L407.25,395.6L407.50,395.0L407.75,401.2L408.00,399.3L408.25,400.6L408.50,400.2L408.75,399.9L409.00,396.7L409.25,397.9L409.50,396.1L409.75,398.9L410.00,398.5L410.25,395.9L410.50,397.0L410.75,401.0L411.00,399.8L411.25,395.8L411.50,398.8L411.75,401.5L412.00,396.8L412.25,398.1L412.50,399.7L412.75,397.0L413.00,398.2L413.25,397.6L413.50,399.9L413.75,396.2L414.00,399.0L414.25,395.6L414.50,399.0L414.75,396.2L415.00,397.9L415.25,399.7L415.50,398.0L415.75,398.6L416.00,399.4L416.25,397.4L416.50,399.9L416.75,401.7L417.00,399.8L417.25,400.0L417.50,396.7L417.75,396.8L418.00,397.3L418.25,397.4L418.50,396.9L418.75,395.4L419.00,396.7L419.25,399.2L419.50,396.4L419.75,400.6L420.00,396.6L420.25,396.3L420.50,397.0L420.75,399.7L421.00,387.7L421.25,393.9L421.50,400.3L421.75,397.4L422.00,398.0L422.25,396.6L422.50,399.8L422.75,397.5L423.00,398.0L423.25,397.3L423.50,395.4L423.75,396.1L424.00,397.8L424.25,396.6L424.50,399.2L424.75,399.0L425.00,399.4L425.25,397.7L425.50,399.0L425.75,396.3L426.00,399.5L426.25,398.0L426.50,397.7L426.75,398.1L427.00,393.9L427.25,396.8L427.50,397.1L427.75,400.0L428.00,396.9L428.25,395.6L428.50,397.7L428.75,396.0L429.00,395.7L429.25,396.9L429.50,401.0L429.75,398.7L430.00,398.1L430.25,398.4L430.50,399.7L430.75,394.3L431.00,398.6L431.25,396.9L431.50,397.2L431.75,396.6L432.00,394.6L432.25,397.8L432.50,397.6L432.75,400.5L433.00,399.6L433.25,398.6L433.50,398.8L433.75,396.5L434.00,399.0L434.25,394.6L434.50,399.6L434.75,395.1L435.00,395.0L435.25,397.7L435.50,398.7L435.75,397.9L436.00,396.6L436.25,398.6L436.50,396.2L436.75,396.3L437.00,396.9L437.25,397.2L437.50,400.5L437.75,396.2L438.00,398.0L438.25,395.7L438.50,395.7L438.75,397.6L439.00,399.3L439.25,397.2L439.50,400.6L439.75,398.2L440.00,396.4L440.25,397.3L440.50,395.4L440.75,399.6L441.00,399.9L441.25,396.5L441.50,398.4L441.75,400.2L442.00,399.0L442.25,399.0L442.50,399.0L442.75,397.4L443.00,397.2L443.25,401.8L443.50,401.3L443.75,399.4L444.00,398.5L444.25,398.6L444.50,396.8L444.75,396.7L445.00,396.1L445.25,395.4L445.50,397.9L445.75,395.8L446.00,400.2L446.25,395.3L446.50,396.7L446.75,397.4L447.00,397.5L447.25,398.1L447.50,400.4L447.75,399.3L448.00,397.1L448.25,397.7L448.50,397.7L448.75,399.4L449.00,398.7L449.25,398.3L449.50,396.4L449.75,398.8L450.00,398.0L450.25,397.1L450.50,394.7L450.75,395.3L451.00,395.3L451.25,399.1L451.50,394.8L451.75,396.2L452.00,394.3L452.25,398.7L452.50,399.3L452.75,396.5L453.00,395.6L453.25,397.4L453.50,395.5L453.75,394.2L454.00,394.4L454.25,396.2L454.50,395.4L454.75,395.5L455.00,395.8L455.25,394.2L455.50,394.8L455.75,394.4L456.00,392.0L456.25,393.4L456.50,393.6L456.75,394.6L457.00,396.0L457.25,394.6L457.50,394.6L457.75,396.3L458.00,394.5L458.25,392.8L458.50,393.4L458.75,394.9L459.00,397.1L459.25,395.9L459.50,393.4L459.75,393.6L460.00,396.3L460.25,395.1L460.50,390.9L460.75,394.3L461.00,393.6L461.25,397.7L461.50,395.8L461.75,395.5L462.00,395.1L462.25,395.0L462.50,397.9L462.75,397.7L463.00,395.6L463.25,394.7L463.50,395.3L463.75,395.4L464.00,397.0L464.25,393.7L464.50,398.8L464.75,395.8L465.00,393.2L465.25,395.5L465.50,396.3L465.75,395.7L466.00,397.3L466.25,397.7L466.50,395.6L466.75,398.6L467.00,398.7L467.25,398.4L467.50,395.7L467.75,400.6L468.00,395.6L468.25,399.5L468.50,400.3L468.75,397.4L469.00,397.3L469.25,399.2L469.50,397.1L469.75,398.8L470.00,397.5L470.25,396.6L470.50,398.8L470.75,399.2L471.00,397.7L471.25,397.1L471.50,395.6L471.75,395.3L472.00,395.5L472.25,399.6L472.50,396.4L472.75,396.6L473.00,397.6L473.25,397.2L473.50,396.3L473.75,398.6L474.00,398.2L474.25,399.9L474.50,396.1L474.75,399.0L475.00,392.2L475.25,398.6L475.50,397.8L475.75,399.3L476.00,395.7L476.25,400.7L476.50,399.6L476.75,401.7L477.00,397.0L477.25,397.9L477.50,398.9L477.75,396.4L478.00,398.9L478.25,397.9L478.50,394.9L478.75,397.3L479.00,399.2L479.25,397.3L479.50,399.6L479.75,394.7L480.00,399.0L480.25,399.3L480.50,396.2L480.75,395.1L481.00,397.7L481.25,398.4L481.50,397.4L481.75,399.1L482.00,396.2L482.25,398.6L482.50,398.0L482.75,393.7L483.00,396.4L483.25,396.7L483.50,401.3L483.75,396.7L484.00,397.9L484.25,396.1L484.50,398.7L484.75,398.8L485.00,397.0L485.25,396.4L485.50,394.7L485.75,398.7L486.00,395.1L486.25,396.8L486.50,396.3L486.75,395.9L487.00,394.6L487.25,396.5L487.50,398.8L487.75,397.7L488.00,396.0L488.25,399.4L488.50,396.3L488.75,398.8L489.00,397.4L489.25,398.0L489.50,398.5L489.75,397.6L490.00,398.0L490.25,398.9L490.50,397.6L490.75,393.7L491.00,399.7L491.25,397.1L491.50,399.0L491.75,397.6L492.00,399.6L492.25,397.6L492.50,400.8L492.75,398.6L493.00,399.1L493.25,396.7L493.50,395.7L493.75,400.3L494.00,397.9L494.25,399.5L494.50,400.3L494.75,397.7L495.00,394.2L495.25,398.0L495.50,396.1L495.75,395.3L496.00,398.9L496.25,398.3L496.50,398.3L496.75,402.3L497.00,396.3L497.25,395.6L497.50,398.8L497.75,399.2L498.00,398.0L498.25,399.6L498.50,399.6L498.75,397.5L499.00,401.9L499.25,398.2L499.50,397.0L499.75,398.2L500.00,395.8L500.25,398.6L500.50,401.2L500.75,397.7L501.00,399.0L501.25,398.5L501.50,398.8L501.75,398.4L502.00,397.7L502.25,400.4L502.50,395.7L502.75,399.3L503.00,397.8L503.25,398.7L503.50,399.9L503.75,398.7L504.00,396.1L504.25,396.1L504.50,399.9L504.75,400.9L505.00,398.4L505.25,399.7L505.50,398.5L505.75,399.3L506.00,400.4L506.25,398.8L506.50,399.0L506.75,397.5L507.00,396.7L507.25,398.7L507.50,396.6L507.75,398.7L508.00,396.1L508.25,398.3L508.50,399.2L508.75,400.6L509.00,398.1L509.25,396.0L509.50,396.6L509.75,401.1L510.00,397.4L510.25,397.1L510.50,395.1L510.75,397.1L511.00,399.6L511.25,399.8L511.50,399.4L511.75,399.4L512.00,399.4L512.25,396.7L512.50,396.4L512.75,398.7L513.00,398.2L513.25,398.6L513.50,396.9L513.75,400.5L514.00,398.2L514.25,399.4L514.50,397.4L514.75,398.5L515.00,400.5L515.25,398.0L515.50,400.0L515.75,400.2L516.00,395.8L516.25,399.2L516.50,397.8L516.75,397.5L517.00,398.9L517.25,400.0L517.50,398.4L517.75,398.5L518.00,394.2L518.25,399.3L518.50,398.6L518.75,399.5L519.00,395.2L519.25,400.1L519.50,397.2L519.75,398.9L520.00,397.4L520.25,398.4L520.50,394.0L520.75,400.8L521.00,396.3L521.25,396.0L521.50,399.9L521.75,400.5L522.00,396.9L522.25,399.4L522.50,399.3L522.75,398.5L523.00,398.3L523.25,395.4L523.50,398.6L523.75,398.6L524.00,399.9L524.25,398.2L524.50,398.4L524.75,400.3L525.00,395.6L525.25,399.8L525.50,398.8L525.75,398.4L526.00,396.9L526.25,395.2L526.50,399.0L526.75,398.4L527.00,399.0L527.25,396.9L527.50,399.8L527.75,397.0L528.00,397.2L528.25,397.2L528.50,397.8L528.75,398.8L529.00,396.2L529.25,395.2L529.50,395.7L529.75,398.7L530.00,396.0L530.25,398.8L530.50,396.5L530.75,399.4L531.00,399.6L531.25,397.8L531.50,398.0L531.75,399.8L532.00,399.5L532.25,401.7L532.50,398.7L532.75,395.1L533.00,398.8L533.25,396.8L533.50,395.9L533.75,396.3L534.00,400.8L534.25,397.7L534.50,399.2L534.75,401.0L535.00,400.7L535.25,398.8L535.50,400.7L535.75,398.8L536.00,395.6L536.25,397.7L536.50,395.8L536.75,399.5L537.00,398.7L537.25,398.3L537.50,399.4L537.75,396.4L538.00,398.8L538.25,398.2L538.50,398.1L538.75,396.6L539.00,397.0L539.25,397.7L539.50,398.8L539.75,398.0L540.00,397.0L540.25,399.1L540.50,399.6L540.75,399.4L541.00,401.5L541.25,399.2L541.50,397.1L541.75,397.1L542.00,396.5L542.25,399.2L542.50,399.5L542.75,398.1L543.00,397.2L543.25,399.8L543.50,398.9L543.75,399.9L544.00,397.0L544.25,397.9L544.50,399.3L544.75,399.8L545.00,399.1L545.25,398.7L545.50,400.0L545.75,397.1L546.00,397.2L546.25,398.6L546.50,399.9L546.75,397.1L547.00,398.2L547.25,396.1L547.50,397.4L547.75,396.6L548.00,399.4L548.25,399.3L548.50,398.9L548.75,395.2L549.00,402.3L549.25,397.0L549.50,399.5L549.75,399.5L550.00,401.2L550.25,402.4L550.50,400.2L550.75,398.9L551.00,396.7L551.25,399.6L551.50,400.0L551.75,397.1L552.00,401.3L552.25,396.1L552.50,398.3L552.75,400.5L553.00,401.7L553.25,396.5L553.50,400.5L553.75,399.4L554.00,401.3L554.25,399.7L554.50,397.6L554.75,396.3L555.00,396.3L555.25,400.9L555.50,399.3L555.75,399.3L556.00,394.4L556.25,395.4L556.50,397.5L556.75,400.6L557.00,398.1L557.25,398.5L557.50,398.2L557.75,399.2L558.00,399.8L558.25,399.2L558.50,399.2L558.75,393.0L559.00,396.7L559.25,398.2L559.50,400.3L559.75,397.3L560.00,398.8L560.25,399.1L560.50,396.6L560.75,398.2L561.00,400.6L561.25,396.8L561.50,400.8L561.75,400.6L562.00,398.2L562.25,401.7L562.50,397.0L562.75,402.5L563.00,394.8L563.25,398.0L563.50,398.3L563.75,399.5L564.00,400.9L564.25,399.4L564.50,399.4L564.75,396.8L565.00,400.1L565.25,396.8L565.50,398.8L565.75,395.6L566.00,398.8L566.25,400.6L566.50,397.5L566.75,399.5L567.00,398.0L567.25,398.9L567.50,399.4L567.75,396.9L568.00,398.2L568.25,398.0L568.50,398.2L568.75,402.1L569.00,397.8L569.25,398.1L569.50,398.8L569.75,399.9L570.00,399.3L570.25,398.6L570.50,398.0L570.75,401.7L571.00,398.8L571.25,401.2L571.50,397.6L571.75,400.6L572.00,400.6L572.25,399.0L572.50,400.5L572.75,397.0L573.00,398.7L573.25,400.1L573.50,396.0L573.75,398.4L574.00,396.3L574.25,398.1L574.50,400.6L574.75,397.0L575.00,397.2L575.25,396.7L575.50,397.3L575.75,398.7L576.00,402.4L576.25,397.3L576.50,398.7L576.75,397.6L577.00,397.5L577.25,396.5L577.50,398.3L577.75,396.7L578.00,398.6L578.25,399.1L578.50,399.1L578.75,399.4L579.00,398.0L579.25,396.2L579.50,398.2L579.75,393.5L580.00,400.0L580.25,399.3L580.50,397.1L580.75,399.9L581.00,398.2L581.25,400.2L581.50,400.3L581.75,396.3L582.00,398.7L582.25,400.0L582.50,400.1L582.75,396.4L583.00,397.5L583.25,400.6L583.50,397.3L583.75,401.6L584.00,395.7L584.25,396.4L584.50,401.4L584.75,398.6L585.00,399.6L585.25,393.8L585.50,399.1L585.75,398.2L586.00,398.7L586.25,399.8L586.50,398.6L586.75,400.4L587.00,397.5L587.25,398.3L587.50,398.9L587.75,400.9L588.00,398.4L588.25,397.6L588.50,397.5L588.75,401.9L589.00,400.1L589.25,397.4L589.50,400.9L589.75,398.3L590.00,397.8L590.25,398.5L590.50,398.1L590.75,398.5L591.00,398.5L591.25,398.7L591.50,396.3L591.75,399.5L592.00,398.9L592.25,395.3L592.50,398.7L592.75,397.2L593.00,396.4L593.25,395.7L593.50,396.0L593.75,397.4L594.00,398.3L594.25,391.9L594.50,395.4L594.75,395.0L595.00,395.0L595.25,395.0L595.50,397.5L595.75,397.1L596.00,391.6L596.25,397.1L596.50,394.2L596.75,394.9L597.00,397.0L597.25,397.1L597.50,391.6L597.75,396.7L598.00,393.7L598.25,397.8L598.50,395.8L598.75,389.9L599.00,395.0L599.25,390.5L599.50,394.3L599.75,394.2L600.00,393.5L600.25,395.2L600.50,397.5L600.75,395.2L601.00,391.2L601.25,391.1L601.50,391.0L601.75,393.4L602.00,394.1L602.25,393.1L602.50,394.1L602.75,397.7L603.00,396.4L603.25,395.4L603.50,394.7L603.75,398.1L604.00,393.8L604.25,394.6L604.50,394.6L604.75,396.4L605.00,393.9L605.25,397.2L605.50,394.7L605.75,397.9L606.00,393.1L606.25,391.6L606.50,393.3L606.75,393.0L607.00,398.2L607.25,397.1L607.50,397.5L607.75,395.8L608.00,395.1L608.25,394.6L608.50,391.1L608.75,393.5L609.00,397.8L609.25,395.0L609.50,395.0L609.75,393.5L610.00,395.5L610.25,399.8L610.50,397.6L610.75,400.2L611.00,401.8L611.25,398.2L611.50,398.0L611.75,397.9L612.00,400.8L612.25,397.4L612.50,395.5L612.75,400.1L613.00,396.4L613.25,397.7L613.50,397.9L613.75,395.3L614.00,399.6L614.25,399.0L614.50,394.8L614.75,397.3L615.00,398.6L615.25,395.5L615.50,398.9L615.75,399.1L616.00,399.8L616.25,397.7L616.50,399.0L616.75,397.6L617.00,398.2L617.25,397.0L617.50,396.5L617.75,396.0L618.00,396.9L618.25,398.4L618.50,399.6L618.75,400.1L619.00,396.4L619.25,398.2L619.50,397.2L619.75,395.1L620.00,395.6L620.25,400.9L620.50,397.4L620.75,399.4L621.00,396.1L621.25,397.2L621.50,400.5L621.75,400.3L622.00,400.7L622.25,400.2L622.50,401.2L622.75,396.5L623.00,398.6L623.25,398.0L623.50,397.7L623.75,397.9L624.00,398.7L624.25,398.2L624.50,396.8L624.75,396.4L625.00,400.2L625.25,398.5L625.50,398.6L625.75,401.3L626.00,394.8L626.25,400.4L626.50,402.7L626.75,400.5L627.00,394.5L627.25,398.3L627.50,398.1L627.75,398.5L628.00,399.3L628.25,398.2L628.50,399.3L628.75,395.0L629.00,398.7L629.25,394.8L629.50,398.2L629.75,398.7L630.00,399.0L630.25,396.9L630.50,396.3L630.75,399.8L631.00,401.7L631.25,399.3L631.50,399.2L631.75,398.8L632.00,401.5L632.25,397.6L632.50,398.2L632.75,393.2L633.00,399.7L633.25,398.4L633.50,396.5L633.75,399.7L634.00,399.1L634.25,396.5L634.50,395.5L634.75,400.2L635.00,396.9L635.25,399.2L635.50,396.2L635.75,397.8L636.00,399.6L636.25,400.9L636.50,398.1L636.75,398.4L637.00,398.8L637.25,396.4L637.50,402.1L637.75,400.0L638.00,400.0L638.25,401.1L638.50,395.6L638.75,400.8L639.00,399.1L639.25,397.0L639.50,397.7L639.75,396.3L640.00,398.6L640.25,398.5L640.50,401.8L640.75,398.9L641.00,397.1L641.25,402.3L641.50,395.7L641.75,398.3L642.00,397.9L642.25,402.3L642.50,397.5L642.75,396.7L643.00,398.9L643.25,399.3L643.50,400.9L643.75,398.5L644.00,398.4L644.25,396.5L644.50,400.2L644.75,399.5L645.00,398.4L645.25,401.7L645.50,402.5L645.75,397.0L646.00,397.2L646.25,399.8L646.50,400.6L646.75,398.6L647.00,401.5L647.25,399.1L647.50,399.3L647.75,402.0L648.00,398.1L648.25,398.3L648.50,404.9L648.75,395.6L649.00,400.2L649.25,399.5L649.50,396.9L649.75,403.0L650.00,394.6L650.00,410.1Z" fill="#808000" fill-opacity="0.3" stroke="none"/>
<path d="M100.00,399.9L100.25,402.4L100.50,398.2L100.75,401.2L101.00,397.0L101.25,400.0L101.50,399.8L101.75,393.6L102.00,398.9L102.25,401.5L102.50,398.2L102.75,400.0L103.00,400.9L103.25,399.8L103.50,402.0L103.75,397.2L104.00,400.2L104.25,410.1L104.50,398.8L104.75,403.9L105.00,400.7L105.25,400.0L105.50,398.9L105.75,401.9L106.00,396.6L106.25,400.6L106.50,392.0L106.75,398.2L107.00,401.7L107.25,401.7L107.50,410.1L107.75,400.2L108.00,403.9L108.25,397.8L108.50,396.2L108.75,400.0L109.00,398.8L109.25,400.7L109.50,400.1L109.75,403.7L110.00,395.3L110.25,397.7L110.50,397.8L110.75,396.7L111.00,401.1L111.25,403.3L111.50,396.3L111.75,398.2L112.00,402.1L112.25,396.4L112.50,397.0L112.75,399.1L113.00,397.0L113.25,399.6L113.50,400.2L113.75,398.3L114.00,399.8L114.25,396.9L114.50,400.4L114.75,397.7L115.00,399.6L115.25,401.5L115.50,396.9L115.75,399.2L116.00,395.5L116.25,395.6L116.50,401.8L116.75,403.0L117.00,398.0L117.25,399.4L117.50,402.0L117.75,399.6L118.00,398.8L118.25,401.7L118.50,402.5L118.75,397.3L119.00,400.9L119.25,410.1L119.50,400.8L119.75,401.1L120.00,398.8L120.25,401.8L120.50,401.5L120.75,395.9L121.00,399.0L121.25,400.9L121.50,400.2L121.75,401.5L122.00,400.6L122.25,397.0L122.50,399.1L122.75,399.8L123.00,397.5L123.25,399.3L123.50,396.1L123.75,397.7L124.00,410.1L124.25,399.5L124.50,401.3L124.75,397.4L125.00,398.5L125.25,401.2L125.50,400.0L125.75,398.9L126.00,401.3L126.25,398.2L126.50,402.0L126.75,399.7L127.00,396.2L127.25,394.9L127.50,399.1L127.75,399.6L128.00,400.6L128.25,410.1L128.50,398.7L128.75,397.1L129.00,400.8L129.25,401.5L129.50,398.8L129.75,397.9L130.00,399.1L130.25,398.1L130.50,399.5L130.75,397.4L131.00,399.0L131.25,400.4L131.50,398.0L131.75,401.3L132.00,396.6L132.25,398.4L132.50,399.3L132.75,401.3L133.00,404.5L133.25,400.3L133.50,399.5L133.75,399.5L134.00,398.4L134.25,401.4L134.50,400.5L134.75,399.1L135.00,400.4L135.25,400.8L135.50,397.5L135.75,398.0L136.00,402.8L136.25,397.8L136.50,401.2L136.75,398.8L137.00,410.1L137.25,398.7L137.50,399.1L137.75,399.9L138.00,397.7L138.25,399.2L138.50,396.3L138.75,399.3L139.00,399.0L139.25,400.5L139.50,399.9L139.75,403.2L140.00,394.5L140.25,398.3L140.50,398.6L140.75,399.6L141.00,400.2L141.25,401.9L141.50,395.8L141.75,397.5L142.00,396.0L142.25,397.3L142.50,410.1L142.75,397.4L143.00,400.9L143.25,402.3L143.50,401.3L143.75,400.5L144.00,401.9L144.25,396.3L144.50,399.7L144.75,395.2L145.00,402.3L145.25,399.8L145.50,404.7L145.75,401.4L146.00,410.1L146.25,396.6L146.50,400.1L146.75,398.7L147.00,398.6L147.25,396.7L147.50,401.5L147.75,398.3L148.00,399.5L148.25,403.0L148.50,410.1L148.75,397.3L149.00,398.2L149.25,399.8L149.50,398.1L149.75,396.4L150.00,398.2L150.25,399.1L150.50,397.4L150.75,400.2L151.00,398.9L151.25,403.4L151.50,396.0L151.75,398.8L152.00,401.6L152.25,400.2L152.50,400.6L152.75,397.5L153.00,410.1L153.25,400.1L153.50,402.0L153.75,397.6L154.00,398.2L154.25,401.0L154.50,399.8L154.75,395.5L155.00,397.6L155.25,403.7L155.50,396.1L155.75,401.1L156.00,399.0L156.25,400.2L156.50,401.4L156.75,399.4L157.00,398.7L157.25,410.1L157.50,400.7L157.75,398.0L158.00,399.6L158.25,400.6L158.50,402.9L158.75,399.1L159.00,397.2L159.25,398.3L159.50,399.9L159.75,402.5L160.00,399.2L160.25,397.6L160.50,400.8L160.75,400.0L161.00,410.1L161.25,399.0L161.50,401.4L161.75,400.0L162.00,397.5L162.25,399.8L162.50,399.4L162.75,399.1L163.00,396.7L163.25,400.3L163.50,399.8L163.75,400.7L164.00,400.3L164.25,400.5L164.50,400.9L164.75,399.6L165.00,400.0L165.25,398.7L165.50,398.0L165.75,397.7L166.00,397.8L166.25,399.7L166.50,399.9L166.75,398.0L167.00,398.1L167.25,399.0L167.50,398.5L167.75,396.7L168.00,400.4L168.25,398.5L168.50,399.6L168.75,401.7L169.00,397.9L169.25,398.0L169.50,398.2L169.75,395.2L170.00,398.1L170.25,396.6L170.50,397.6L170.75,399.6L171.00,393.5L171.25,397.3L171.50,397.6L171.75,396.9L172.00,399.8L172.25,395.6L172.50,394.2L172.75,398.3L173.00,396.8L173.25,400.7L173.50,410.1L173.75,391.3L174.00,397.9L174.25,398.3L174.50,401.6L174.75,395.5L175.00,396.5L175.25,392.8L175.50,396.4L175.75,393.9L176.00,395.4L176.25,393.2L176.50,394.0L176.75,392.4L177.00,395.0L177.25,395.6L177.50,396.6L177.75,395.8L178.00,410.1L178.25,395.0L178.50,395.7L178.75,394.9L179.00,394.7L179.25,393.4L179.50,393.9L179.75,396.1L180.00,393.9L180.25,397.7L180.50,396.4L180.75,396.1L181.00,396.2L181.25,393.8L181.50,397.8L181.75,410.1L182.00,394.1L182.25,395.3L182.50,395.4L182.75,395.7L183.00,395.0L183.25,396.1L183.50,394.9L183.75,392.7L184.00,393.2L184.25,395.5L184.50,397.6L184.75,395.1L185.00,396.3L185.25,395.8L185.50,389.4L185.75,391.5L186.00,391.0L186.25,393.2L186.50,386.6L186.75,391.3L187.00,386.5L187.25,383.7L187.50,383.8L187.75,388.5L188.00,387.0L188.25,386.3L188.50,389.2L188.75,389.4L189.00,391.7L189.25,390.4L189.50,389.6L189.75,390.9L190.00,395.6L190.25,392.1L190.50,390.1L190.75,394.3L191.00,394.2L191.25,394.2L191.50,390.8L191.75,393.8L192.00,394.0L192.25,394.6L192.50,391.0L192.75,397.0L193.00,410.1L193.25,395.4L193.50,397.1L193.75,395.9L194.00,395.0L194.25,390.6L194.50,395.2L194.75,394.7L195.00,397.1L195.25,392.6L195.50,395.1L195.75,391.6L196.00,398.1L196.25,398.0L196.50,395.7L196.75,396.1L197.00,393.9L197.25,397.9L197.50,396.7L197.75,399.3L198.00,396.8L198.25,395.2L198.50,401.0L198.75,398.9L199.00,397.6L199.25,397.9L199.50,393.9L199.75,395.7L200.00,398.4L200.25,398.6L200.50,410.1L200.75,398.4L201.00,394.9L201.25,398.0L201.50,397.7L201.75,402.3L202.00,399.1L202.25,401.0L202.50,396.9L202.75,396.1L203.00,398.5L203.25,400.5L203.50,397.9L203.75,396.7L204.00,410.1L204.25,398.6L204.50,396.2L204.75,395.6L205.00,398.1L205.25,396.6L205.50,401.8L205.75,397.4L206.00,394.6L206.25,398.9L206.50,399.3L206.75,398.1L207.00,401.8L207.25,401.1L207.50,397.5L207.75,395.7L208.00,395.0L208.25,397.4L208.50,397.0L208.75,398.8L209.00,410.1L209.25,396.5L209.50,400.9L209.75,401.3L210.00,400.0L210.25,397.1L210.50,399.2L210.75,399.0L211.00,398.1L211.25,399.2L211.50,395.8L211.75,397.2L212.00,398.6L212.25,398.5L212.50,398.1L212.75,398.4L213.00,400.6L213.25,398.6L213.50,400.5L213.75,398.9L214.00,410.1L214.25,399.6L214.50,399.0L214.75,403.0L215.00,398.3L215.25,399.4L215.50,394.5L215.75,399.1L216.00,398.6L216.25,400.0L216.50,397.0L216.75,396.8L217.00,399.8L217.25,397.7L217.50,399.1L217.75,398.4L218.00,393.7L218.25,397.4L218.50,410.1L218.75,396.5L219.00,399.7L219.25,396.4L219.50,400.2L219.75,398.2L220.00,395.8L220.25,398.7L220.50,396.0L220.75,400.2L221.00,401.2L221.25,394.5L221.50,398.4L221.75,398.0L222.00,396.4L222.25,400.6L222.50,401.7L222.75,398.6L223.00,397.8L223.25,399.1L223.50,399.5L223.75,400.2L224.00,398.4L224.25,392.8L224.50,398.5L224.75,401.8L225.00,397.5L225.25,397.0L225.50,395.6L225.75,397.3L226.00,410.1L226.25,400.5L226.50,397.9L226.75,400.3L227.00,400.5L227.25,399.3L227.50,396.0L227.75,401.6L228.00,397.8L228.25,399.7L228.50,399.7L228.75,398.8L229.00,398.9L229.25,401.7L229.50,398.4L229.75,400.7L230.00,400.6L230.25,396.5L230.50,397.9L230.75,399.4L231.00,401.3L231.25,400.4L231.50,401.3L231.75,399.4L232.00,399.8L232.25,400.0L232.50,398.8L232.75,399.6L233.00,396.4L233.25,399.7L233.50,410.1L233.75,397.9L234.00,398.2L234.25,396.6L234.50,397.8L234.75,398.4L235.00,396.8L235.25,399.3L235.50,397.2L235.75,399.5L236.00,404.0L236.25,400.9L236.50,397.1L236.75,400.9L237.00,398.1L237.25,399.6L237.50,401.2L237.75,394.8L238.00,396.2L238.25,399.8L238.50,401.0L238.75,398.6L239.00,395.9L239.25,401.1L239.50,399.0L239.75,398.8L240.00,398.2L240.25,402.3L240.50,399.5L240.75,399.7L241.00,399.3L241.25,398.4L241.50,399.5L241.75,399.4L242.00,401.6L242.25,397.8L242.50,396.9L242.75,399.5L243.00,399.7L243.25,399.9L243.50,396.1L243.75,400.3L244.00,397.9L244.25,395.2L244.50,403.1L244.75,399.2L245.00,395.9L245.25,399.2L245.50,399.8L245.75,400.0L246.00,410.1L246.25,399.1L246.50,400.3L246.75,399.4L247.00,400.5L247.25,401.5L247.50,398.9L247.75,395.3L248.00,400.9L248.25,399.7L248.50,399.7L248.75,402.3L249.00,399.7L249.25,399.2L249.50,399.6L249.75,398.3L250.00,401.4L250.25,397.9L250.50,398.1L250.75,396.7L251.00,399.1L251.25,400.7L251.50,399.3L251.75,399.3L252.00,396.3L252.25,396.4L252.50,397.1L252.75,401.2L253.00,399.3L253.25,401.4L253.50,401.3L253.75,399.7L254.00,403.7L254.25,396.3L254.50,398.8L254.75,400.3L255.00,399.8L255.25,399.0L255.50,396.5L255.75,398.2L256.00,399.3L256.25,395.4L256.50,399.0L256.75,396.4L257.00,398.5L257.25,400.9L257.50,403.1L257.75,397.9L258.00,398.8L258.25,398.6L258.50,398.9L258.75,400.0L259.00,400.6L259.25,399.2L259.50,398.6L259.75,398.2L260.00,399.4L260.25,397.9L260.50,400.6L260.75,399.3L261.00,399.9L261.25,403.6L261.50,400.0L261.75,400.6L262.00,399.8L262.25,400.3L262.50,399.8L262.75,397.1L263.00,400.2L263.25,399.4L263.50,398.5L263.75,396.6L264.00,397.5L264.25,401.2L264.50,398.1L264.75,403.5L265.00,403.0L265.25,402.1L265.50,410.1L265.75,398.5L266.00,400.2L266.25,399.8L266.50,396.7L266.75,397.3L267.00,399.1L267.25,399.3L267.50,397.4L267.75,397.4L268.00,397.1L268.25,397.5L268.50,396.7L268.75,397.8L269.00,396.9L269.25,400.3L269.50,394.6L269.75,396.8L270.00,395.2L270.25,401.1L270.50,399.5L270.75,397.0L271.00,396.7L271.25,399.2L271.50,397.0L271.75,400.1L272.00,399.0L272.25,398.8L272.50,401.5L272.75,397.1L273.00,399.4L273.25,398.6L273.50,396.0L273.75,400.7L274.00,400.9L274.25,400.0L274.50,410.1L274.75,400.7L275.00,399.2L275.25,404.4L275.50,400.0L275.75,400.8L276.00,395.4L276.25,399.1L276.50,399.4L276.75,400.0L277.00,399.7L277.25,400.3L277.50,400.0L277.75,395.9L278.00,399.1L278.25,396.8L278.50,397.7L278.75,401.1L279.00,399.7L279.25,403.3L279.50,399.7L279.75,410.1L280.00,399.9L280.25,400.7L280.50,398.6L280.75,403.6L281.00,397.6L281.25,400.2L281.50,398.3L281.75,400.8L282.00,399.9L282.25,397.9L282.50,398.3L282.75,400.0L283.00,399.7L283.25,397.4L283.50,399.6L283.75,400.3L284.00,398.4L284.25,397.3L284.50,398.2L284.75,398.7L285.00,397.9L285.25,399.9L285.50,394.5L285.75,396.5L286.00,398.9L286.25,396.2L286.50,397.5L286.75,399.1L287.00,398.8L287.25,401.0L287.50,400.4L287.75,399.2L288.00,398.9L288.25,397.8L288.50,400.5L288.75,402.0L289.00,396.1L289.25,398.0L289.50,399.8L289.75,398.1L290.00,401.7L290.25,400.5L290.50,400.4L290.75,400.0L291.00,400.1L291.25,394.6L291.50,400.1L291.75,401.4L292.00,399.4L292.25,397.8L292.50,399.7L292.75,400.4L293.00,400.9L293.25,398.3L293.50,397.9L293.75,398.0L294.00,398.2L294.25,398.7L294.50,397.9L294.75,399.8L295.00,399.8L295.25,399.1L295.50,397.0L295.75,398.0L296.00,401.8L296.25,398.9L296.50,401.2L296.75,395.7L297.00,397.8L297.25,398.4L297.50,396.7L297.75,396.4L298.00,399.8L298.25,399.0L298.50,399.5L298.75,400.8L299.00,395.4L299.25,397.3L299.50,397.1L299.75,395.6L300.00,392.4L300.25,397.5L300.50,396.4L300.75,394.6L301.00,398.9L301.25,391.7L301.50,392.4L301.75,398.7L302.00,400.6L302.25,397.9L302.50,397.3L302.75,397.4L303.00,397.2L303.25,395.6L303.50,393.6L303.75,396.0L304.00,398.2L304.25,397.4L304.50,398.1L304.75,396.3L305.00,400.8L305.25,393.4L305.50,395.7L305.75,395.6L306.00,398.2L306.25,393.2L306.50,397.7L306.75,397.6L307.00,396.6L307.25,397.9L307.50,396.1L307.75,396.8L308.00,398.1L308.25,396.4L308.50,400.9L308.75,393.9L309.00,397.7L309.25,398.0L309.50,397.4L309.75,395.0L310.00,398.7L310.25,396.9L310.50,395.9L310.75,397.7L311.00,391.6L311.25,396.4L311.50,399.8L311.75,394.2L312.00,396.6L312.25,391.9L312.50,397.0L312.75,390.4L313.00,396.2L313.25,392.2L313.50,390.4L313.75,395.8L314.00,394.0L314.25,394.6L314.50,394.3L314.75,395.8L315.00,393.3L315.25,394.2L315.50,397.4L315.75,394.9L316.00,396.0L316.25,390.4L316.50,393.9L316.75,393.0L317.00,390.6L317.25,394.6L317.50,391.2L317.75,396.0L318.00,391.1L318.25,391.8L318.50,390.6L318.75,390.5L319.00,393.0L319.25,390.0L319.50,392.6L319.75,385.7L320.00,394.2L320.25,391.6L320.50,392.2L320.75,388.8L321.00,391.5L321.25,389.5L321.50,390.6L321.75,390.8L322.00,391.0L322.25,388.8L322.50,388.1L322.75,389.2L323.00,389.8L323.25,388.6L323.50,388.2L323.75,389.2L324.00,381.5L324.25,378.9L324.50,371.6L324.75,371.3L325.00,378.4L325.25,380.2L325.50,376.1L325.75,381.5L326.00,379.6L326.25,386.7L326.50,382.3L326.75,383.4L327.00,382.4L327.25,383.7L327.50,388.1L327.75,388.3L328.00,385.1L328.25,384.7L328.50,386.2L328.75,387.4L329.00,388.0L329.25,388.7L329.50,385.1L329.75,385.9L330.00,386.5L330.25,389.4L330.50,387.6L330.75,388.5L331.00,389.9L331.25,389.7L331.50,388.0L331.75,393.7L332.00,392.1L332.25,390.7L332.50,388.2L332.75,389.1L333.00,392.2L333.25,393.6L333.50,389.3L333.75,389.7L334.00,388.8L334.25,391.1L334.50,390.8L334.75,389.9L335.00,390.9L335.25,393.1L335.50,391.0L335.75,391.4L336.00,388.6L336.25,392.2L336.50,396.5L336.75,392.4L337.00,390.8L337.25,390.8L337.50,391.5L337.75,391.7L338.00,395.1L338.25,392.9L338.50,392.4L338.75,395.0L339.00,395.6L339.25,390.7L339.50,394.1L339.75,395.8L340.00,391.8L340.25,394.3L340.50,397.1L340.75,396.9L341.00,398.2L341.25,395.0L341.50,396.6L341.75,399.3L342.00,394.8L342.25,397.9L342.50,397.3L342.75,396.8L343.00,398.4L343.25,397.1L343.50,395.4L343.75,398.6L344.00,395.7L344.25,398.7L344.50,398.8L344.75,396.5L345.00,400.1L345.25,399.2L345.50,396.6L345.75,396.4L346.00,399.4L346.25,395.4L346.50,399.7L346.75,397.8L347.00,397.5L347.25,397.4L347.50,396.3L347.75,397.5L348.00,396.6L348.25,396.0L348.50,400.2L348.75,398.2L349.00,397.5L349.25,395.8L349.50,398.3L349.75,397.6L350.00,396.8L350.25,398.8L350.50,400.0L350.75,395.2L351.00,396.6L351.25,399.3L351.50,401.6L351.75,393.1L352.00,396.7L352.25,396.0L352.50,396.3L352.75,394.3L353.00,399.6L353.25,394.1L353.50,395.2L353.75,396.8L354.00,400.9L354.25,399.8L354.50,400.3L354.75,398.3L355.00,395.7L355.25,398.4L355.50,393.8L355.75,396.3L356.00,399.4L356.25,397.0L356.50,397.0L356.75,396.7L357.00,395.7L357.25,398.5L357.50,399.5L357.75,401.2L358.00,398.4L358.25,396.0L358.50,395.2L358.75,401.3L359.00,398.8L359.25,397.5L359.50,401.4L359.75,398.5L360.00,399.1L360.25,394.3L360.50,397.6L360.75,398.8L361.00,399.5L361.25,396.2L361.50,397.4L361.75,398.2L362.00,397.6L362.25,399.3L362.50,398.7L362.75,400.4L363.00,396.5L363.25,398.5L363.50,398.4L363.75,400.0L364.00,397.3L364.25,399.2L364.50,397.4L364.75,399.0L365.00,399.7L365.25,397.0L365.50,398.0L365.75,397.6L366.00,399.8L366.25,397.8L366.50,400.3L366.75,398.4L367.00,402.3L367.25,402.5L367.50,399.4L367.75,395.8L368.00,398.4L368.25,400.7L368.50,398.4L368.75,397.9L369.00,398.1L369.25,397.2L369.50,398.7L369.75,401.6L370.00,399.1L370.25,397.0L370.50,398.9L370.75,398.1L371.00,401.4L371.25,398.8L371.50,399.0L371.75,396.7L372.00,396.3L372.25,399.7L372.50,398.3L372.75,398.3L373.00,399.6L373.25,400.3L373.50,399.9L373.75,399.6L374.00,401.9L374.25,399.3L374.50,396.4L374.75,396.3L375.00,400.0L375.25,399.4L375.50,395.1L375.75,401.2L376.00,399.0L376.25,397.8L376.50,395.8L376.75,398.7L377.00,399.4L377.25,399.1L377.50,399.0L377.75,398.5L378.00,398.5L378.25,398.1L378.50,398.5L378.75,396.6L379.00,398.5L379.25,400.1L379.50,396.4L379.75,396.8L380.00,401.0L380.25,395.1L380.50,399.6L380.75,395.7L381.00,396.3L381.25,396.6L381.50,398.1L381.75,396.8L382.00,396.8L382.25,400.3L382.50,399.8L382.75,398.8L383.00,396.8L383.25,397.4L383.50,401.9L383.75,400.1L384.00,397.2L384.25,401.7L384.50,397.2L384.75,398.3L385.00,398.4L385.25,398.8L385.50,396.6L385.75,398.0L386.00,399.0L386.25,397.0L386.50,398.9L386.75,398.2L387.00,399.1L387.25,395.8L387.50,399.5L387.75,402.9L388.00,402.4L388.25,398.9L388.50,396.0L388.75,397.8L389.00,397.0L389.25,397.0L389.50,399.2L389.75,399.4L390.00,399.0L390.25,401.2L390.50,397.0L390.75,399.6L391.00,396.4L391.25,400.0L391.50,398.9L391.75,400.4L392.00,399.6L392.25,400.2L392.50,399.1L392.75,398.0L393.00,395.7L393.25,399.8L393.50,396.9L393.75,396.8L394.00,396.5L394.25,395.6L394.50,399.4L394.75,393.8L395.00,400.9L395.25,397.1L395.50,399.1L395.75,401.1L396.00,400.2L396.25,398.7L396.50,399.5L396.75,396.7L397.00,397.3L397.25,400.1L397.50,400.8L397.75,397.2L398.00,395.3L398.25,400.9L398.50,399.6L398.75,396.5L399.00,395.9L399.25,395.2L399.50,397.8L399.75,398.7L400.00,398.9L400.25,398.5L400.50,395.5L400.75,397.9L401.00,400.4L401.25,401.0L401.50,395.3L401.75,397.1L402.00,399.8L402.25,401.0L402.50,395.9L402.75,396.9L403.00,400.3L403.25,399.5L403.50,397.8L403.75,395.2L404.00,398.4L404.25,399.3L404.50,398.4L404.75,398.9L405.00,399.5L405.25,399.9L405.50,400.0L405.75,398.0L406.00,397.1L406.25,397.1L406.50,399.3L406.75,396.4L407.00,398.5L407.25,395.6L407.50,395.0L407.75,401.2L408.00,399.3L408.25,400.6L408.50,400.2L408.75,399.9L409.00,396.7L409.25,397.9L409.50,396.1L409.75,398.9L410.00,398.5L410.25,395.9L410.50,397.0L410.75,401.0L411.00,399.8L411.25,395.8L411.50,398.8L411.75,401.5L412.00,396.8L412.25,398.1L412.50,399.7L412.75,397.0L413.00,398.2L413.25,397.6L413.50,399.9L413.75,396.2L414.00,399.0L414.25,395.6L414.50,399.0L414.75,396.2L415.00,397.9L415.25,399.7L415.50,398.0L415.75,398.6L416.00,399.4L416.25,397.4L416.50,399.9L416.75,401.7L417.00,399.8L417.25,400.0L417.50,396.7L417.75,396.8L418.00,397.3L418.25,397.4L418.50,396.9L418.75,395.4L419.00,396.7L419.25,399.2L419.50,396.4L419.75,400.6L420.00,396.6L420.25,396.3L420.50,397.0L420.75,399.7L421.00,387.7L421.25,393.9L421.50,400.3L421.75,397.4L422.00,398.0L422.25,396.6L422.50,399.8L422.75,397.5L423.00,398.0L423.25,397.3L423.50,395.4L423.75,396.1L424.00,397.8L424.25,396.6L424.50,399.2L424.75,399.0L425.00,399.4L425.25,397.7L425.50,399.0L425.75,396.3L426.00,399.5L426.25,398.0L426.50,397.7L426.75,398.1L427.00,393.9L427.25,396.8L427.50,397.1L427.75,400.0L428.00,396.9L428.25,395.6L428.50,397.7L428.75,396.0L429.00,395.7L429.25,396.9L429.50,401.0L429.75,398.7L430.00,398.1L430.25,398.4L430.50,399.7L430.75,394.3L431.00,398.6L431.25,396.9L431.50,397.2L431.75,396.6L432.00,394.6L432.25,397.8L432.50,397.6L432.75,400.5L433.00,399.6L433.25,398.6L433.50,398.8L433.75,396.5L434.00,399.0L434.25,394.6L434.50,399.6L434.75,395.1L435.00,395.0L435.25,397.7L435.50,398.7L435.75,397.9L436.00,396.6L436.25,398.6L436.50,396.2L436.75,396.3L437.00,396.9L437.25,397.2L437.50,400.5L437.75,396.2L438.00,398.0L438.25,395.7L438.50,395.7L438.75,397.6L439.00,399.3L439.25,397.2L439.50,400.6L439.75,398.2L440.00,396.4L440.25,397.3L440.50,395.4L440.75,399.6L441.00,399.9L441.25,396.5L441.50,398.4L441.75,400.2L442.00,399.0L442.25,399.0L442.50,399.0L442.75,397.4L443.00,397.2L443.25,401.8L443.50,401.3L443.75,399.4L444.00,398.5L444.25,398.6L444.50,396.8L444.75,396.7L445.00,396.1L445.25,395.4L445.50,397.9L445.75,395.8L446.00,400.2L446.25,395.3L446.50,396.7L446.75,397.4L447.00,397.5L447.25,398.1L447.50,400.4L447.75,399.3L448.00,397.1L448.25,397.7L448.50,397.7L448.75,399.4L449.00,398.7L449.25,398.3L449.50,396.4L449.75,398.8L450.00,398.0L450.25,397.1L450.50,394.7L450.75,395.3L451.00,395.3L451.25,399.1L451.50,394.8L451.75,396.2L452.00,394.3L452.25,398.7L452.50,399.3L452.75,396.5L453.00,395.6L453.25,397.4L453.50,395.5L453.75,394.2L454.00,394.4L454.25,396.2L454.50,395.4L454.75,395.5L455.00,395.8L455.25,394.2L455.50,394.8L455.75,394.4L456.00,392.0L456.25,393.4L456.50,393.6L456.75,394.6L457.00,396.0L457.25,394.6L457.50,394.6L457.75,396.3L458.00,394.5L458.25,392.8L458.50,393.4L458.75,394.9L459.00,397.1L459.25,395.9L459.50,393.4L459.75,393.6L460.00,396.3L460.25,395.1L460.50,390.9L460.75,394.3L461.00,393.6L461.25,397.7L461.50,395.8L461.75,395.5L462.00,395.1L462.25,395.0L462.50,397.9L462.75,397.7L463.00,395.6L463.25,394.7L463.50,395.3L463.75,395.4L464.00,397.0L464.25,393.7L464.50,398.8L464.75,395.8L465.00,393.2L465.25,395.5L465.50,396.3L465.75,395.7L466.00,397.3L466.25,397.7L466.50,395.6L466.75,398.6L467.00,398.7L467.25,398.4L467.50,395.7L467.75,400.6L468.00,395.6L468.25,399.5L468.50,400.3L468.75,397.4L469.00,397.3L469.25,399.2L469.50,397.1L469.75,398.8L470.00,397.5L470.25,396.6L470.50,398.8L470.75,399.2L471.00,397.7L471.25,397.1L471.50,395.6L471.75,395.3L472.00,395.5L472.25,399.6L472.50,396.4L472.75,396.6L473.00,397.6L473.25,397.2L473.50,396.3L473.75,398.6L474.00,398.2L474.25,399.9L474.50,396.1L474.75,399.0L475.00,392.2L475.25,398.6L475.50,397.8L475.75,399.3L476.00,395.7L476.25,400.7L476.50,399.6L476.75,401.7L477.00,397.0L477.25,397.9L477.50,398.9L477.75,396.4L478.00,398.9L478.25,397.9L478.50,394.9L478.75,397.3L479.00,399.2L479.25,397.3L479.50,399.6L479.75,394.7L480.00,399.0L480.25,399.3L480.50,396.2L480.75,395.1L481.00,397.7L481.25,398.4L481.50,397.4L481.75,399.1L482.00,396.2L482.25,398.6L482.50,398.0L482.75,393.7L483.00,396.4L483.25,396.7L483.50,401.3L483.75,396.7L484.00,397.9L484.25,396.1L484.50,398.7L484.75,398.8L485.00,397.0L485.25,396.4L485.50,394.7L485.75,398.7L486.00,395.1L486.25,396.8L486.50,396.3L486.75,395.9L487.00,394.6L487.25,396.5L487.50,398.8L487.75,397.7L488.00,396.0L488.25,399.4L488.50,396.3L488.75,398.8L489.00,397.4L489.25,398.0L489.50,398.5L489.75,397.6L490.00,398.0L490.25,398.9L490.50,397.6L490.75,393.7L491.00,399.7L491.25,397.1L491.50,399.0L491.75,397.6L492.00,399.6L492.25,397.6L492.50,400.8L492.75,398.6L493.00,399.1L493.25,396.7L493.50,395.7L493.75,400.3L494.00,397.9L494.25,399.5L494.50,400.3L494.75,397.7L495.00,394.2L495.25,398.0L495.50,396.1L495.75,395.3L496.00,398.9L496.25,398.3L496.50,398.3L496.75,402.3L497.00,396.3L497.25,395.6L497.50,398.8L497.75,399.2L498.00,398.0L498.25,399.6L498.50,399.6L498.75,397.5L499.00,401.9L499.25,398.2L499.50,397.0L499.75,398.2L500.00,395.8L500.25,398.6L500.50,401.2L500.75,397.7L501.00,399.0L501.25,398.5L501.50,398.8L501.75,398.4L502.00,397.7L502.25,400.4L502.50,395.7L502.75,399.3L503.00,397.8L503.25,398.7L503.50,399.9L503.75,398.7L504.00,396.1L504.25,396.1L504.50,399.9L504.75,400.9L505.00,398.4L505.25,399.7L505.50,398.5L505.75,399.3L506.00,400.4L506.25,398.8L506.50,399.0L506.75,397.5L507.00,396.7L507.25,398.7L507.50,396.6L507.75,398.7L508.00,396.1L508.25,398.3L508.50,399.2L508.75,400.6L509.00,398.1L509.25,396.0L509.50,396.6L509.75,401.1L510.00,397.4L510.25,397.1L510.50,395.1L510.75,397.1L511.00,399.6L511.25,399.8L511.50,399.4L511.75,399.4L512.00,399.4L512.25,396.7L512.50,396.4L512.75,398.7L513.00,398.2L513.25,398.6L513.50,396.9L513.75,400.5L514.00,398.2L514.25,399.4L514.50,397.4L514.75,398.5L515.00,400.5L515.25,398.0L515.50,400.0L515.75,400.2L516.00,395.8L516.25,399.2L516.50,397.8L516.75,397.5L517.00,398.9L517.25,400.0L517.50,398.4L517.75,398.5L518.00,394.2L518.25,399.3L518.50,398.6L518.75,399.5L519.00,395.2L519.25,400.1L519.50,397.2L519.75,398.9L520.00,397.4L520.25,398.4L520.50,394.0L520.75,400.8L521.00,396.3L521.25,396.0L521.50,399.9L521.75,400.5L522.00,396.9L522.25,399.4L522.50,399.3L522.75,398.5L523.00,398.3L523.25,395.4L523.50,398.6L523.75,398.6L524.00,399.9L524.25,398.2L524.50,398.4L524.75,400.3L525.00,395.6L525.25,399.8L525.50,398.8L525.75,398.4L526.00,396.9L526.25,395.2L526.50,399.0L526.75,398.4L527.00,399.0L527.25,396.9L527.50,399.8L527.75,397.0L528.00,397.2L528.25,397.2L528.50,397.8L528.75,398.8L529.00,396.2L529.25,395.2L529.50,395.7L529.75,398.7L530.00,396.0L530.25,398.8L530.50,396.5L530.75,399.4L531.00,399.6L531.25,397.8L531.50,398.0L531.75,399.8L532.00,399.5L532.25,401.7L532.50,398.7L532.75,395.1L533.00,398.8L533.25,396.8L533.50,395.9L533.75,396.3L534.00,400.8L534.25,397.7L534.50,399.2L534.75,401.0L535.00,400.7L535.25,398.8L535.50,400.7L535.75,398.8L536.00,395.6L536.25,397.7L536.50,395.8L536.75,399.5L537.00,398.7L537.25,398.3L537.50,399.4L537.75,396.4L538.00,398.8L538.25,398.2L538.50,398.1L538.75,396.6L539.00,397.0L539.25,397.7L539.50,398.8L539.75,398.0L540.00,397.0L540.25,399.1L540.50,399.6L540.75,399.4L541.00,401.5L541.25,399.2L541.50,397.1L541.75,397.1L542.00,396.5L542.25,399.2L542.50,399.5L542.75,398.1L543.00,397.2L543.25,399.8L543.50,398.9L543.75,399.9L544.00,397.0L544.25,397.9L544.50,399.3L544.75,399.8L545.00,399.1L545.25,398.7L545.50,400.0L545.75,397.1L546.00,397.2L546.25,398.6L546.50,399.9L546.75,397.1L547.00,398.2L547.25,396.1L547.50,397.4L547.75,396.6L548.00,399.4L548.25,399.3L548.50,398.9L548.75,395.2L549.00,402.3L549.25,397.0L549.50,399.5L549.75,399.5L550.00,401.2L550.25,402.4L550.50,400.2L550.75,398.9L551.00,396.7L551.25,399.6L551.50,400.0L551.75,397.1L552.00,401.3L552.25,396.1L552.50,398.3L552.75,400.5L553.00,401.7L553.25,396.5L553.50,400.5L553.75,399.4L554.00,401.3L554.25,399.7L554.50,397.6L554.75,396.3L555.00,396.3L555.25,400.9L555.50,399.3L555.75,399.3L556.00,394.4L556.25,395.4L556.50,397.5L556.75,400.6L557.00,398.1L557.25,398.5L557.50,398.2L557.75,399.2L558.00,399.8L558.25,399.2L558.50,399.2L558.75,393.0L559.00,396.7L559.25,398.2L559.50,400.3L559.75,397.3L560.00,398.8L560.25,399.1L560.50,396.6L560.75,398.2L561.00,400.6L561.25,396.8L561.50,400.8L561.75,400.6L562.00,398.2L562.25,401.7L562.50,397.0L562.75,402.5L563.00,394.8L563.25,398.0L563.50,398.3L563.75,399.5L564.00,400.9L564.25,399.4L564.50,399.4L564.75,396.8L565.00,400.1L565.25,396.8L565.50,398.8L565.75,395.6L566.00,398.8L566.25,400.6L566.50,397.5L566.75,399.5L567.00,398.0L567.25,398.9L567.50,399.4L567.75,396.9L568.00,398.2L568.25,398.0L568.50,398.2L568.75,402.1L569.00,397.8L569.25,398.1L569.50,398.8L569.75,399.9L570.00,399.3L570.25,398.6L570.50,398.0L570.75,401.7L571.00,398.8L571.25,401.2L571.50,397.6L571.75,400.6L572.00,400.6L572.25,399.0L572.50,400.5L572.75,397.0L573.00,398.7L573.25,400.1L573.50,396.0L573.75,398.4L574.00,396.3L574.25,398.1L574.50,400.6L574.75,397.0L575.00,397.2L575.25,396.7L575.50,397.3L575.75,398.7L576.00,402.4L576.25,397.3L576.50,398.7L576.75,397.6L577.00,397.5L577.25,396.5L577.50,398.3L577.75,396.7L578.00,398.6L578.25,399.1L578.50,399.1L578.75,399.4L579.00,398.0L579.25,396.2L579.50,398.2L579.75,393.5L580.00,400.0L580.25,399.3L580.50,397.1L580.75,399.9L581.00,398.2L581.25,400.2L581.50,400.3L581.75,396.3L582.00,398.7L582.25,400.0L582.50,400.1L582.75,396.4L583.00,397.5L583.25,400.6L583.50,397.3L583.75,401.6L584.00,395.7L584.25,396.4L584.50,401.4L584.75,398.6L585.00,399.6L585.25,393.8L585.50,399.1L585.75,398.2L586.00,398.7L586.25,399.8L586.50,398.6L586.75,400.4L587.00,397.5L587.25,398.3L587.50,398.9L587.75,400.9L588.00,398.4L588.25,397.6L588.50,397.5L588.75,401.9L589.00,400.1L589.25,397.4L589.50,400.9L589.75,398.3L590.00,397.8L590.25,398.5L590.50,398.1L590.75,398.5L591.00,398.5L591.25,398.7L591.50,396.3L591.75,399.5L592.00,398.9L592.25,395.3L592.50,398.7L592.75,397.2L593.00,396.4L593.25,395.7L593.50,396.0L593.75,397.4L594.00,398.3L594.25,391.9L594.50,395.4L594.75,395.0L595.00,395.0L595.25,395.0L595.50,397.5L595.75,397.1L596.00,391.6L596.25,397.1L596.50,394.2L596.75,394.9L597.00,397.0L597.25,397.1L597.50,391.6L597.75,396.7L598.00,393.7L598.25,397.8L598.50,395.8L598.75,389.9L599.00,395.0L599.25,390.5L599.50,394.3L599.75,394.2L600.00,393.5L600.25,395.2L600.50,397.5L600.75,395.2L601.00,391.2L601.25,391.1L601.50,391.0L601.75,393.4L602.00,394.1L602.25,393.1L602.50,394.1L602.75,397.7L603.00,396.4L603.25,395.4L603.50,394.7L603.75,398.1L604.00,393.8L604.25,394.6L604.50,394.6L604.75,396.4L605.00,393.9L605.25,397.2L605.50,394.7L605.75,397.9L606.00,393.1L606.25,391.6L606.50,393.3L606.75,393.0L607.00,398.2L607.25,397.1L607.50,397.5L607.75,395.8L608.00,395.1L608.25,394.6L608.50,391.1L608.75,393.5L609.00,397.8L609.25,395.0L609.50,395.0L609.75,393.5L610.00,395.5L610.25,399.8L610.50,397.6L610.75,400.2L611.00,401.8L611.25,398.2L611.50,398.0L611.75,397.9L612.00,400.8L612.25,397.4L612.50,395.5L612.75,400.1L613.00,396.4L613.25,397.7L613.50,397.9L613.75,395.3L614.00,399.6L614.25,399.0L614.50,394.8L614.75,397.3L615.00,398.6L615.25,395.5L615.50,398.9L615.75,399.1L616.00,399.8L616.25,397.7L616.50,399.0L616.75,397.6L617.00,398.2L617.25,397.0L617.50,396.5L617.75,396.0L618.00,396.9L618.25,398.4L618.50,399.6L618.75,400.1L619.00,396.4L619.25,398.2L619.50,397.2L619.75,395.1L620.00,395.6L620.25,400.9L620.50,397.4L620.75,399.4L621.00,396.1L621.25,397.2L621.50,400.5L621.75,400.3L622.00,400.7L622.25,400.2L622.50,401.2L622.75,396.5L623.00,398.6L623.25,398.0L623.50,397.7L623.75,397.9L624.00,398.7L624.25,398.2L624.50,396.8L624.75,396.4L625.00,400.2L625.25,398.5L625.50,398.6L625.75,401.3L626.00,394.8L626.25,400.4L626.50,402.7L626.75,400.5L627.00,394.5L627.25,398.3L627.50,398.1L627.75,398.5L628.00,399.3L628.25,398.2L628.50,399.3L628.75,395.0L629.00,398.7L629.25,394.8L629.50,398.2L629.75,398.7L630.00,399.0L630.25,396.9L630.50,396.3L630.75,399.8L631.00,401.7L631.25,399.3L631.50,399.2L631.75,398.8L632.00,401.5L632.25,397.6L632.50,398.2L632.75,393.2L633.00,399.7L633.25,398.4L633.50,396.5L633.75,399.7L634.00,399.1L634.25,396.5L634.50,395.5L634.75,400.2L635.00,396.9L635.25,399.2L635.50,396.2L635.75,397.8L636.00,399.6L636.25,400.9L636.50,398.1L636.75,398.4L637.00,398.8L637.25,396.4L637.50,402.1L637.75,400.0L638.00,400.0L638.25,401.1L638.50,395.6L638.75,400.8L639.00,399.1L639.25,397.0L639.50,397.7L639.75,396.3L640.00,398.6L640.25,398.5L640.50,401.8L640.75,398.9L641.00,397.1L641.25,402.3L641.50,395.7L641.75,398.3L642.00,397.9L642.25,402.3L642.50,397.5L642.75,396.7L643.00,398.9L643.25,399.3L643.50,400.9L643.75,398.5L644.00,398.4L644.25,396.5L644.50,400.2L644.75,399.5L645.00,398.4L645.25,401.7L645.50,402.5L645.75,397.0L646.00,397.2L646.25,399.8L646.50,400.6L646.75,398.6L647.00,401.5L647.25,399.1L647.50,399.3L647.75,402.0L648.00,398.1L648.25,398.3L648.50,404.9L648.75,395.6L649.00,400.2L649.25,399.5L649.50,396.9L649.75,403.0L650.00,394.6" fill="none" stroke="#808000" stroke-width="1.5" stroke-opacity="0.9" stroke-linejoin="round"/>
<path d="M90,58V455M80,59.00H91M80,102.89H91M80,146.78H91M80,190.67H91M80,234.56H91M80,278.44H91M80,322.33H91M80,366.22H91M80,410.11H91M80,454.00H91M99,464H651M100,464V474M155,464V474M210,464V474M265,464V474M320,464V474M375,464V474M430,464V474M485,464V474M540,464V474M595,464V474M650,464V474" fill="none" stroke="#595959" stroke-width="2"/>
<text x="52.9" y="63.0" font-size="12" textLength="22.5" lengthAdjust="spacingAndGlyphs">80.0</text>
<text x="52.9" y="107.0" font-size="12" textLength="22.5" lengthAdjust="spacingAndGlyphs">70.0</text>
<text x="52.9" y="151.0" font-size="12" textLength="22.5" lengthAdjust="spacingAndGlyphs">60.0</text>
<text x="52.9" y="195.0" font-size="12" textLength="22.5" lengthAdjust="spacingAndGlyphs">50.0</text>
<text x="52.9" y="239.0" font-size="12" textLength="22.5" lengthAdjust="spacingAndGlyphs">40.0</text>
<text x="52.9" y="282.0" font-size="12" textLength="22.5" lengthAdjust="spacingAndGlyphs">30.0</text>
<text x="52.9" y="326.0" font-size="12" textLength="22.5" lengthAdjust="spacingAndGlyphs">20.0</text>
<text x="52.9" y="370.0" font-size="12" textLength="22.5" lengthAdjust="spacingAndGlyphs">10.0</text>
<text x="68.9" y="414.0" font-size="12" textLength="6.5" lengthAdjust="spacingAndGlyphs">0</text>
<text x="49.3" y="458.0" font-size="12" textLength="26.1" lengthAdjust="spacingAndGlyphs">-10.0</text>
<text x="37.4" y="483.7" font-size="12" textLength="58.8" lengthAdjust="spacingAndGlyphs">2024-07-09</text>
<text x="99.0" y="483.7" font-size="12" textLength="64.3" lengthAdjust="spacingAndGlyphs">00:00:00.000</text>
<text x="587.1" y="483.7" font-size="12" textLength="58.8" lengthAdjust="spacingAndGlyphs">2024-07-12</text>
<text x="648.7" y="483.7" font-size="12" textLength="64.3" lengthAdjust="spacingAndGlyphs">23:59:59.000</text>
<text transform="translate(35.6,277.5) rotate(-90)" font-size="19.5" font-weight="bold" textLength="39.5" lengthAdjust="spacingAndGlyphs">Value</text>
<text x="14.9" y="29" font-size="16.4" font-weight="bold" textLength="42.4" lengthAdjust="spacingAndGlyphs">Energy</text>
<text x="61.3" y="29" font-size="16.4" font-weight="bold" textLength="67.1" lengthAdjust="spacingAndGlyphs">Monitoring</text>
<rect x="13" y="531" width="15" height="15" rx="2" fill="#777"/>
<path d="M15.9,538.5l3.3,3.2l5.9,-8" fill="none" stroke="#fff" stroke-width="2.7"/>
<path d="M30,539H40" stroke="#00ffff" stroke-width="2" fill="none"/>
<text x="41.7" y="545.0" font-size="15.7" textLength="33.1" lengthAdjust="spacingAndGlyphs">GVL<tspan dy="-1.9">_</tspan></text>
<text x="75.4" y="545.0" font-size="15.7" textLength="46.2" lengthAdjust="spacingAndGlyphs">Energie</text>
<text x="121.6" y="545.0" font-size="15.7" textLength="48.6" lengthAdjust="spacingAndGlyphs">Daten<tspan dy="-1.9">_</tspan></text>
<text x="169.9" y="545.0" font-size="15.7" textLength="20.1" lengthAdjust="spacingAndGlyphs">T1.</text>
<text x="190.0" y="545.0" font-size="15.7" textLength="91.8" lengthAdjust="spacingAndGlyphs">stMesswerte<tspan dy="-1.9">_</tspan></text>
<text x="282.0" y="545.0" font-size="15.7" textLength="56.8" lengthAdjust="spacingAndGlyphs">KL3403<tspan dy="-1.9">_</tspan></text>
<text x="338.9" y="545.0" font-size="15.7" textLength="24.3" lengthAdjust="spacingAndGlyphs">T1<tspan dy="-1.9">_</tspan></text>
<text x="363.3" y="545.0" font-size="15.7" textLength="75.1" lengthAdjust="spacingAndGlyphs">gesamt.fPg</text>
<rect x="13" y="554" width="15" height="15" rx="2" fill="#777"/>
<path d="M15.9,561.5l3.3,3.2l5.9,-8" fill="none" stroke="#fff" stroke-width="2.7"/>
<path d="M30,562H40" stroke="#ff00ff" stroke-width="2" fill="none"/>
<text x="41.7" y="568.0" font-size="15.7" textLength="33.1" lengthAdjust="spacingAndGlyphs">GVL<tspan dy="-1.9">_</tspan></text>
<text x="75.4" y="568.0" font-size="15.7" textLength="46.2" lengthAdjust="spacingAndGlyphs">Energie</text>
<text x="121.6" y="568.0" font-size="15.7" textLength="48.6" lengthAdjust="spacingAndGlyphs">Daten<tspan dy="-1.9">_</tspan></text>
<text x="169.9" y="568.0" font-size="15.7" textLength="20.1" lengthAdjust="spacingAndGlyphs">T2.</text>
<text x="190.0" y="568.0" font-size="15.7" textLength="91.8" lengthAdjust="spacingAndGlyphs">stMesswerte<tspan dy="-1.9">_</tspan></text>
<text x="282.0" y="568.0" font-size="15.7" textLength="56.8" lengthAdjust="spacingAndGlyphs">KL3403<tspan dy="-1.9">_</tspan></text>
<text x="338.9" y="568.0" font-size="15.7" textLength="24.3" lengthAdjust="spacingAndGlyphs">T2<tspan dy="-1.9">_</tspan></text>
<text x="364.0" y="568.0" font-size="15.7" textLength="115.0" lengthAdjust="spacingAndGlyphs">Klimaanlagen.fPg</text>
<rect x="13" y="577" width="15" height="15" rx="2" fill="#777"/>
<path d="M15.9,584.5l3.3,3.2l5.9,-8" fill="none" stroke="#fff" stroke-width="2.7"/>
<path d="M30,585H40" stroke="#ffff00" stroke-width="2" fill="none"/>
<text x="41.7" y="591.0" font-size="15.7" textLength="33.1" lengthAdjust="spacingAndGlyphs">GVL<tspan dy="-1.9">_</tspan></text>
<text x="75.4" y="591.0" font-size="15.7" textLength="46.2" lengthAdjust="spacingAndGlyphs">Energie</text>
<text x="121.6" y="591.0" font-size="15.7" textLength="48.6" lengthAdjust="spacingAndGlyphs">Daten<tspan dy="-1.9">_</tspan></text>
<text x="169.9" y="591.0" font-size="15.7" textLength="20.1" lengthAdjust="spacingAndGlyphs">T1.</text>
<text x="190.0" y="591.0" font-size="15.7" textLength="91.8" lengthAdjust="spacingAndGlyphs">stMesswerte<tspan dy="-1.9">_</tspan></text>
<text x="282.0" y="591.0" font-size="15.7" textLength="56.8" lengthAdjust="spacingAndGlyphs">KL3403<tspan dy="-1.9">_</tspan></text>
<text x="338.9" y="591.0" font-size="15.7" textLength="24.3" lengthAdjust="spacingAndGlyphs">T1<tspan dy="-1.9">_</tspan></text>
<text x="364.0" y="591.0" font-size="15.7" textLength="85.2" lengthAdjust="spacingAndGlyphs">Klimageraet<tspan dy="-1.9">_</tspan></text>
<text x="449.5" y="591.0" font-size="15.7" textLength="98.5" lengthAdjust="spacingAndGlyphs">Auditorium.fPg</text>
<rect x="13" y="600" width="15" height="15" rx="2" fill="#777"/>
<path d="M15.9,607.5l3.3,3.2l5.9,-8" fill="none" stroke="#fff" stroke-width="2.7"/>
<path d="M30,608H40" stroke="#e6003c" stroke-width="2" fill="none"/>
<text x="41.7" y="614.0" font-size="15.7" textLength="33.1" lengthAdjust="spacingAndGlyphs">GVL<tspan dy="-1.9">_</tspan></text>
<text x="75.4" y="614.0" font-size="15.7" textLength="46.2" lengthAdjust="spacingAndGlyphs">Energie</text>
<text x="121.6" y="614.0" font-size="15.7" textLength="48.6" lengthAdjust="spacingAndGlyphs">Daten<tspan dy="-1.9">_</tspan></text>
<text x="169.9" y="614.0" font-size="15.7" textLength="20.1" lengthAdjust="spacingAndGlyphs">T1.</text>
<text x="190.0" y="614.0" font-size="15.7" textLength="91.8" lengthAdjust="spacingAndGlyphs">stMesswerte<tspan dy="-1.9">_</tspan></text>
<text x="282.0" y="614.0" font-size="15.7" textLength="56.8" lengthAdjust="spacingAndGlyphs">KL3403<tspan dy="-1.9">_</tspan></text>
<text x="338.9" y="614.0" font-size="15.7" textLength="24.3" lengthAdjust="spacingAndGlyphs">T1<tspan dy="-1.9">_</tspan></text>
<text x="364.0" y="614.0" font-size="15.7" textLength="85.2" lengthAdjust="spacingAndGlyphs">Klimageraet<tspan dy="-1.9">_</tspan></text>
<text x="449.4" y="614.0" font-size="15.7" textLength="45.5" lengthAdjust="spacingAndGlyphs">DG.fPg</text>
<rect x="13" y="623" width="15" height="15" rx="2" fill="#777"/>
<path d="M15.9,630.5l3.3,3.2l5.9,-8" fill="none" stroke="#fff" stroke-width="2.7"/>
<path d="M30,631H40" stroke="#808000" stroke-width="2" fill="none"/>
<text x="41.7" y="637.0" font-size="15.7" textLength="33.1" lengthAdjust="spacingAndGlyphs">GVL<tspan dy="-1.9">_</tspan></text>
<text x="75.4" y="637.0" font-size="15.7" textLength="46.2" lengthAdjust="spacingAndGlyphs">Energie</text>
<text x="121.6" y="637.0" font-size="15.7" textLength="48.6" lengthAdjust="spacingAndGlyphs">Daten<tspan dy="-1.9">_</tspan></text>
<text x="169.9" y="637.0" font-size="15.7" textLength="20.1" lengthAdjust="spacingAndGlyphs">T1.</text>
<text x="190.0" y="637.0" font-size="15.7" textLength="91.8" lengthAdjust="spacingAndGlyphs">stMesswerte<tspan dy="-1.9">_</tspan></text>
<text x="282.0" y="637.0" font-size="15.7" textLength="56.8" lengthAdjust="spacingAndGlyphs">KL3403<tspan dy="-1.9">_</tspan></text>
<text x="338.9" y="637.0" font-size="15.7" textLength="24.3" lengthAdjust="spacingAndGlyphs">T1<tspan dy="-1.9">_</tspan></text>
<text x="364.0" y="637.0" font-size="15.7" textLength="85.2" lengthAdjust="spacingAndGlyphs">Klimageraet<tspan dy="-1.9">_</tspan></text>
<text x="449.4" y="637.0" font-size="15.7" textLength="109.6" lengthAdjust="spacingAndGlyphs">Erdgeschoss.fPg</text>
</svg>
</body></html>
